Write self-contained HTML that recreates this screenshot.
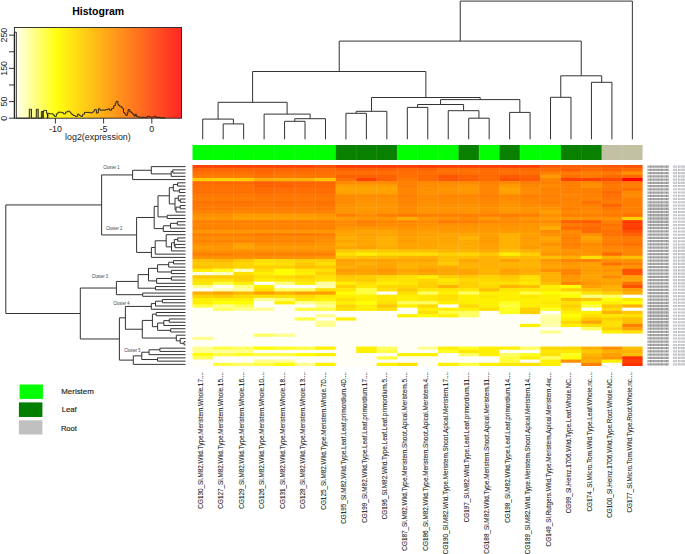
<!DOCTYPE html>
<html><head><meta charset="utf-8"><title>Heatmap</title><style>
html,body{margin:0;padding:0;background:#fff;width:685px;height:554px;overflow:hidden;}
svg{display:block;font-family:"Liberation Sans",sans-serif;}
</style></head><body>
<svg width="685" height="554" viewBox="0 0 685 554">
<defs><linearGradient id="hg" x1="0" x2="1" y1="0" y2="0"><stop offset="0" stop-color="#fffff8"/><stop offset="0.25" stop-color="#ffff10"/><stop offset="1" stop-color="#ff2626"/></linearGradient></defs>
<rect width="685" height="554" fill="#fff"/>
<text x="98.2" y="15.2" font-size="10.5" font-weight="bold" text-anchor="middle" fill="#000">Histogram</text>
<rect x="14.4" y="27.5" width="167.1" height="90.7" fill="url(#hg)"/>
<rect x="29.4" y="109.4" width="2.1" height="8.8" fill="#505000" fill-opacity="0.35"/>
<rect x="36.5" y="109.5" width="1.8" height="8.7" fill="#505000" fill-opacity="0.35"/>
<rect x="41.6" y="111.6" width="2.1" height="6.6" fill="#505000" fill-opacity="0.35"/>
<rect x="47.6" y="113.5" width="1.8" height="4.7" fill="#505000" fill-opacity="0.35"/>
<polyline fill="none" stroke="#1a1a1a" stroke-width="0.9" points="14.4,118.2 14.4,32.2 16.3,32.2 16.3,118.2 29.3,118.2 29.3,109.2 31.5,109.2 31.5,118.2 36.3,118.2 36.3,109.2 38.2,109.2 38.2,118.2 41.4,118.2 41.4,111.4 43,111.4 43,118.2 43,111.4 43.9,111.4 43.9,110.4 46.6,110.4 46.6,113.2 47.4,113.2 47.4,118.2 47.6,118.2 47.6,113.3 49.5,113.3 49.5,113.8 53.1,113.8 53.1,115.1 54.5,115.1 54.5,116.4 56.4,116.4 56.4,113.8 58,113.8 58,112.2 61.5,112.2 61.5,112.7 63.4,112.7 63.4,113.9 65.6,113.9 65.6,112 67.6,112 67.6,111.1 69.3,111.1 69.3,111.6 70.2,111.6 70.2,112.7 71.2,112.7 71.2,114.2 73,114.2 73,115.5 75,115.5 75,116.4 77.5,116.4 77.5,114.2 79.2,114.2 79.2,115.5 80.8,115.5 80.8,116.4 82.7,116.4 82.7,114.2 84.5,114.2 84.5,112.4 90,112.4 90,112.9 92.3,112.9 92.3,112.4 93.2,112.4 93.2,111.1 94.5,111.1 94.5,109.6 96.4,109.6 96.4,113.1 97.9,113.1 97.9,112.5 98.4,112.5 98.4,108.8 100,108.8 100,110.2 102,110.2 102,110 103.8,110 103.8,110.2 105.5,110.2 105.5,109.6 108.2,109.6 108.2,108.8 109.5,108.8 109.5,110.2 111.6,110.2 111.6,108.4 113.7,108.4 113.7,105.7 115.3,105.7 115.3,103.2 116.2,103.2 116.2,101.4 118,101.4 118,104.9 119.3,104.9 119.3,106.1 120.6,106.1 120.6,106.7 121.8,106.7 121.8,107.8 122.9,107.8 122.9,109 123.5,109 123.5,112.5 124.6,112.5 124.6,113.7 125.8,113.7 125.8,115.4 127,115.4 127,114.9 127.6,114.9 127.6,112.5 128.1,112.5 128.1,109.6 129.8,109.6 129.8,111.9 131.6,111.9 131.6,113.1 132.9,113.1 132.9,114.3 134,114.3 134,116 135.2,116 135.2,114.3 136.3,114.3 136.3,116.6 138.2,116.6 138.2,117 140.5,117 140.5,117.3 147.5,117.3 147.5,116.3 149.5,116.3 149.5,117.1 154.3,117.1 154.3,116.3 156,116.3 156,117.4 160,117.4 160,117.8 165,117.8 165,118.2"/>
<rect x="14.4" y="27.5" width="167.1" height="90.7" fill="none" stroke="#222" stroke-width="0.9"/>
<line x1="14.4" y1="118.2" x2="14.4" y2="35.15" stroke="#222" stroke-width="0.9"/>
<line x1="9" y1="118.2" x2="14.4" y2="118.2" stroke="#222" stroke-width="0.9"/>
<line x1="9" y1="101.59" x2="14.4" y2="101.59" stroke="#222" stroke-width="0.9"/>
<line x1="9" y1="84.98" x2="14.4" y2="84.98" stroke="#222" stroke-width="0.9"/>
<line x1="9" y1="68.37" x2="14.4" y2="68.37" stroke="#222" stroke-width="0.9"/>
<line x1="9" y1="51.76" x2="14.4" y2="51.76" stroke="#222" stroke-width="0.9"/>
<line x1="9" y1="35.15" x2="14.4" y2="35.15" stroke="#222" stroke-width="0.9"/>
<text transform="translate(6.6,118.2) rotate(-90)" font-size="8.9" text-anchor="middle" fill="#222">0</text>
<text transform="translate(6.6,101.59) rotate(-90)" font-size="8.9" text-anchor="middle" fill="#222">50</text>
<text transform="translate(6.6,68.37) rotate(-90)" font-size="8.9" text-anchor="middle" fill="#222">150</text>
<text transform="translate(6.6,35.15) rotate(-90)" font-size="8.9" text-anchor="middle" fill="#222">250</text>
<line x1="55.4" y1="118.2" x2="55.4" y2="123.5" stroke="#222" stroke-width="0.9"/>
<text x="55.4" y="132.1" font-size="8.9" text-anchor="middle" fill="#222">-10</text>
<line x1="103.6" y1="118.2" x2="103.6" y2="123.5" stroke="#222" stroke-width="0.9"/>
<text x="103.6" y="132.1" font-size="8.9" text-anchor="middle" fill="#222">-5</text>
<line x1="151.8" y1="118.2" x2="151.8" y2="123.5" stroke="#222" stroke-width="0.9"/>
<text x="151.8" y="132.1" font-size="8.9" text-anchor="middle" fill="#222">0</text>
<text x="97.9" y="140.4" font-size="8.9" text-anchor="middle" fill="#222">log2(expression)</text>
<path d="M223.19 139.3L223.19 123.9 M243.65 139.3L243.65 123.9 M223.19 123.9L243.65 123.9 M202.73 139.3L202.73 119.1 M233.42 123.9L233.42 119.1 M202.73 119.1L233.42 119.1 M284.57 139.3L284.57 121.3 M305.02 139.3L305.02 121.3 M284.57 121.3L305.02 121.3 M294.8 121.3L294.8 118.7 M325.48 139.3L325.48 118.7 M294.8 118.7L325.48 118.7 M264.11 139.3L264.11 114.1 M310.14 118.7L310.14 114.1 M264.11 114.1L310.14 114.1 M218.07 119.1L218.07 102.3 M287.12 114.1L287.12 102.3 M218.07 102.3L287.12 102.3 M345.94 139.3L345.94 113.3 M366.4 139.3L366.4 113.3 M345.94 113.3L366.4 113.3 M356.17 113.3L356.17 111.3 M386.86 139.3L386.86 111.3 M356.17 111.3L386.86 111.3 M407.32 139.3L407.32 107.4 M427.78 139.3L427.78 107.4 M407.32 107.4L427.78 107.4 M468.7 139.3L468.7 118.2 M489.16 139.3L489.16 118.2 M468.7 118.2L489.16 118.2 M448.24 139.3L448.24 110.7 M478.93 118.2L478.93 110.7 M448.24 110.7L478.93 110.7 M417.55 107.4L417.55 104.5 M463.58 110.7L463.58 104.5 M417.55 104.5L463.58 104.5 M509.62 139.3L509.62 112.4 M530.08 139.3L530.08 112.4 M509.62 112.4L530.08 112.4 M440.57 104.5L440.57 99.6 M519.85 112.4L519.85 99.6 M440.57 99.6L519.85 99.6 M371.52 111.3L371.52 97.5 M480.21 99.6L480.21 97.5 M371.52 97.5L480.21 97.5 M252.6 102.3L252.6 71.5 M425.86 97.5L425.86 71.5 M252.6 71.5L425.86 71.5 M550.53 139.3L550.53 97.3 M570.99 139.3L570.99 97.3 M550.53 97.3L570.99 97.3 M591.45 139.3L591.45 82.3 M611.91 139.3L611.91 82.3 M591.45 82.3L611.91 82.3 M560.76 97.3L560.76 75.8 M601.68 82.3L601.68 75.8 M560.76 75.8L601.68 75.8 M339.23 71.5L339.23 41.1 M581.22 75.8L581.22 41.1 M339.23 41.1L581.22 41.1 M460.23 41.1L460.23 1.1 M632.37 139.3L632.37 1.1 M460.23 1.1L632.37 1.1" fill="none" stroke="#333" stroke-width="1"/>
<rect x="192.5" y="145" width="143.71" height="15" fill="#00ff00"/>
<rect x="335.71" y="145" width="61.88" height="15" fill="#0a8000"/>
<rect x="397.09" y="145" width="61.88" height="15" fill="#00ff00"/>
<rect x="458.47" y="145" width="20.96" height="15" fill="#0a8000"/>
<rect x="478.93" y="145" width="20.96" height="15" fill="#00ff00"/>
<rect x="499.39" y="145" width="20.96" height="15" fill="#0a8000"/>
<rect x="519.85" y="145" width="41.42" height="15" fill="#00ff00"/>
<rect x="560.76" y="145" width="41.42" height="15" fill="#0a8000"/>
<rect x="601.68" y="145" width="40.92" height="15" fill="#c3c1a3"/>
<rect x="192.5" y="165" width="123.35" height="3.84" fill="#ff4400"/>
<rect x="315.25" y="165" width="21.06" height="3.84" fill="#ff5000"/>
<rect x="335.71" y="165" width="61.98" height="3.84" fill="#ff3a00"/>
<rect x="397.09" y="165" width="21.06" height="3.84" fill="#ff4000"/>
<rect x="417.55" y="165" width="21.06" height="3.84" fill="#ff3a00"/>
<rect x="438.01" y="165" width="102.9" height="3.84" fill="#ff4000"/>
<rect x="540.3" y="165" width="21.06" height="3.84" fill="#ff5a00"/>
<rect x="560.76" y="165" width="41.52" height="3.84" fill="#ff6000"/>
<rect x="601.68" y="165" width="21.06" height="3.84" fill="#ff5a00"/>
<rect x="622.14" y="165" width="20.46" height="3.84" fill="#ff5500"/>
<rect x="192.5" y="168.24" width="123.35" height="3.84" fill="#ff6400"/>
<rect x="315.25" y="168.24" width="21.06" height="3.84" fill="#ff6a00"/>
<rect x="335.71" y="168.24" width="61.98" height="3.84" fill="#ff6000"/>
<rect x="397.09" y="168.24" width="21.06" height="3.84" fill="#ff6800"/>
<rect x="417.55" y="168.24" width="21.06" height="3.84" fill="#ff6400"/>
<rect x="438.01" y="168.24" width="41.52" height="3.84" fill="#ff7000"/>
<rect x="478.93" y="168.24" width="21.06" height="3.84" fill="#ff6a00"/>
<rect x="499.39" y="168.24" width="21.06" height="3.84" fill="#ff6e00"/>
<rect x="519.85" y="168.24" width="41.52" height="3.84" fill="#ff6a00"/>
<rect x="560.76" y="168.24" width="21.06" height="3.84" fill="#ff5a00"/>
<rect x="581.22" y="168.24" width="21.06" height="3.84" fill="#ff6a00"/>
<rect x="601.68" y="168.24" width="21.06" height="3.84" fill="#ff6000"/>
<rect x="622.14" y="168.24" width="20.46" height="3.84" fill="#ff6a00"/>
<rect x="192.5" y="171.48" width="61.98" height="3.84" fill="#ff7000"/>
<rect x="253.88" y="171.48" width="21.06" height="3.84" fill="#ff6900"/>
<rect x="274.34" y="171.48" width="61.98" height="3.84" fill="#ff6e00"/>
<rect x="335.71" y="171.48" width="61.98" height="3.84" fill="#ff7000"/>
<rect x="397.09" y="171.48" width="41.52" height="3.84" fill="#ff6e00"/>
<rect x="438.01" y="171.48" width="41.52" height="3.84" fill="#ff7000"/>
<rect x="478.93" y="171.48" width="21.06" height="3.84" fill="#ff6c00"/>
<rect x="499.39" y="171.48" width="41.52" height="3.84" fill="#ff7000"/>
<rect x="540.3" y="171.48" width="21.06" height="3.84" fill="#ff8000"/>
<rect x="560.76" y="171.48" width="21.06" height="3.84" fill="#ff7a00"/>
<rect x="581.22" y="171.48" width="21.06" height="3.84" fill="#ff8000"/>
<rect x="601.68" y="171.48" width="21.06" height="3.84" fill="#ff7a00"/>
<rect x="622.14" y="171.48" width="20.46" height="3.84" fill="#ff9000"/>
<rect x="192.5" y="174.73" width="61.98" height="3.84" fill="#ff7a00"/>
<rect x="253.88" y="174.73" width="21.06" height="3.84" fill="#ff7300"/>
<rect x="274.34" y="174.73" width="41.52" height="3.84" fill="#ff7800"/>
<rect x="315.25" y="174.73" width="21.06" height="3.84" fill="#ff7600"/>
<rect x="335.71" y="174.73" width="61.98" height="3.84" fill="#ff6000"/>
<rect x="397.09" y="174.73" width="21.06" height="3.84" fill="#ff7000"/>
<rect x="417.55" y="174.73" width="21.06" height="3.84" fill="#ff6800"/>
<rect x="438.01" y="174.73" width="21.06" height="3.84" fill="#ff5500"/>
<rect x="458.47" y="174.73" width="21.06" height="3.84" fill="#ff6000"/>
<rect x="478.93" y="174.73" width="21.06" height="3.84" fill="#ff6900"/>
<rect x="499.39" y="174.73" width="21.06" height="3.84" fill="#ff5a00"/>
<rect x="519.85" y="174.73" width="21.06" height="3.84" fill="#ff6000"/>
<rect x="540.3" y="174.73" width="21.06" height="3.84" fill="#ff9b00"/>
<rect x="560.76" y="174.73" width="21.06" height="3.84" fill="#ff7000"/>
<rect x="581.22" y="174.73" width="21.06" height="3.84" fill="#ff7a00"/>
<rect x="601.68" y="174.73" width="40.92" height="3.84" fill="#ff6a00"/>
<rect x="192.5" y="177.97" width="21.06" height="3.84" fill="#ffcd00"/>
<rect x="212.96" y="177.97" width="21.06" height="3.84" fill="#ffd200"/>
<rect x="233.42" y="177.97" width="21.06" height="3.84" fill="#ffcd00"/>
<rect x="253.88" y="177.97" width="21.06" height="3.84" fill="#ffaf00"/>
<rect x="274.34" y="177.97" width="41.52" height="3.84" fill="#ffb400"/>
<rect x="315.25" y="177.97" width="21.06" height="3.84" fill="#ffc800"/>
<rect x="335.71" y="177.97" width="21.06" height="3.84" fill="#ff7000"/>
<rect x="356.17" y="177.97" width="21.06" height="3.84" fill="#ff4000"/>
<rect x="376.63" y="177.97" width="21.06" height="3.84" fill="#ff6000"/>
<rect x="397.09" y="177.97" width="21.06" height="3.84" fill="#ff7a00"/>
<rect x="417.55" y="177.97" width="21.06" height="3.84" fill="#ff6a00"/>
<rect x="438.01" y="177.97" width="21.06" height="3.84" fill="#ff5a00"/>
<rect x="458.47" y="177.97" width="21.06" height="3.84" fill="#ff6000"/>
<rect x="478.93" y="177.97" width="21.06" height="3.84" fill="#ff6900"/>
<rect x="499.39" y="177.97" width="21.06" height="3.84" fill="#ff5000"/>
<rect x="519.85" y="177.97" width="21.06" height="3.84" fill="#ff5a00"/>
<rect x="540.3" y="177.97" width="21.06" height="3.84" fill="#ff8500"/>
<rect x="560.76" y="177.97" width="41.52" height="3.84" fill="#ff4000"/>
<rect x="601.68" y="177.97" width="21.06" height="3.84" fill="#ff4a00"/>
<rect x="622.14" y="177.97" width="20.46" height="3.84" fill="#ff0000"/>
<rect x="192.5" y="181.21" width="61.98" height="3.84" fill="#ff6800"/>
<rect x="253.88" y="181.21" width="21.06" height="3.84" fill="#ff5c00"/>
<rect x="274.34" y="181.21" width="41.52" height="3.84" fill="#ff6400"/>
<rect x="315.25" y="181.21" width="21.06" height="3.84" fill="#ff6800"/>
<rect x="335.71" y="181.21" width="21.06" height="3.84" fill="#ff8a00"/>
<rect x="356.17" y="181.21" width="41.52" height="3.84" fill="#ff8c00"/>
<rect x="397.09" y="181.21" width="21.06" height="3.84" fill="#ff8000"/>
<rect x="417.55" y="181.21" width="61.98" height="3.84" fill="#ff8a00"/>
<rect x="478.93" y="181.21" width="21.06" height="3.84" fill="#ff8000"/>
<rect x="499.39" y="181.21" width="21.06" height="3.84" fill="#ff8c00"/>
<rect x="519.85" y="181.21" width="61.98" height="3.84" fill="#ff8000"/>
<rect x="581.22" y="181.21" width="21.06" height="3.84" fill="#ff8a00"/>
<rect x="601.68" y="181.21" width="21.06" height="3.84" fill="#ff7000"/>
<rect x="622.14" y="181.21" width="20.46" height="3.84" fill="#ff7a00"/>
<rect x="192.5" y="184.45" width="61.98" height="3.84" fill="#ff6e00"/>
<rect x="253.88" y="184.45" width="41.52" height="3.84" fill="#ff6100"/>
<rect x="294.8" y="184.45" width="21.06" height="3.84" fill="#ff6600"/>
<rect x="315.25" y="184.45" width="21.06" height="3.84" fill="#ff6800"/>
<rect x="335.71" y="184.45" width="61.98" height="3.84" fill="#ffa000"/>
<rect x="397.09" y="184.45" width="21.06" height="3.84" fill="#ff8000"/>
<rect x="417.55" y="184.45" width="21.06" height="3.84" fill="#ff8c00"/>
<rect x="438.01" y="184.45" width="21.06" height="3.84" fill="#ff9000"/>
<rect x="458.47" y="184.45" width="21.06" height="3.84" fill="#ff9600"/>
<rect x="478.93" y="184.45" width="21.06" height="3.84" fill="#ff8500"/>
<rect x="499.39" y="184.45" width="21.06" height="3.84" fill="#ff9b00"/>
<rect x="519.85" y="184.45" width="21.06" height="3.84" fill="#ff8700"/>
<rect x="540.3" y="184.45" width="21.06" height="3.84" fill="#ff8a00"/>
<rect x="560.76" y="184.45" width="21.06" height="3.84" fill="#ff8000"/>
<rect x="581.22" y="184.45" width="21.06" height="3.84" fill="#ff9000"/>
<rect x="601.68" y="184.45" width="21.06" height="3.84" fill="#ff7a00"/>
<rect x="622.14" y="184.45" width="20.46" height="3.84" fill="#ff8000"/>
<rect x="192.5" y="187.69" width="61.98" height="3.84" fill="#ff7200"/>
<rect x="253.88" y="187.69" width="21.06" height="3.84" fill="#ff6b00"/>
<rect x="274.34" y="187.69" width="61.98" height="3.84" fill="#ff6e00"/>
<rect x="335.71" y="187.69" width="61.98" height="3.84" fill="#ffa500"/>
<rect x="397.09" y="187.69" width="21.06" height="3.84" fill="#ff8500"/>
<rect x="417.55" y="187.69" width="21.06" height="3.84" fill="#ff9100"/>
<rect x="438.01" y="187.69" width="21.06" height="3.84" fill="#ff9600"/>
<rect x="458.47" y="187.69" width="21.06" height="3.84" fill="#ff9b00"/>
<rect x="478.93" y="187.69" width="21.06" height="3.84" fill="#ff8500"/>
<rect x="499.39" y="187.69" width="21.06" height="3.84" fill="#ffa500"/>
<rect x="519.85" y="187.69" width="21.06" height="3.84" fill="#ff8c00"/>
<rect x="540.3" y="187.69" width="61.98" height="3.84" fill="#ff8000"/>
<rect x="601.68" y="187.69" width="21.06" height="3.84" fill="#ff7600"/>
<rect x="622.14" y="187.69" width="20.46" height="3.84" fill="#ff7000"/>
<rect x="192.5" y="190.94" width="61.98" height="3.84" fill="#ff6e00"/>
<rect x="253.88" y="190.94" width="21.06" height="3.84" fill="#ff6b00"/>
<rect x="274.34" y="190.94" width="41.52" height="3.84" fill="#ff6e00"/>
<rect x="315.25" y="190.94" width="21.06" height="3.84" fill="#ff6b00"/>
<rect x="335.71" y="190.94" width="61.98" height="3.84" fill="#ffa000"/>
<rect x="397.09" y="190.94" width="21.06" height="3.84" fill="#ff8500"/>
<rect x="417.55" y="190.94" width="41.52" height="3.84" fill="#ff9100"/>
<rect x="458.47" y="190.94" width="21.06" height="3.84" fill="#ff9600"/>
<rect x="478.93" y="190.94" width="21.06" height="3.84" fill="#ff8500"/>
<rect x="499.39" y="190.94" width="21.06" height="3.84" fill="#ffa000"/>
<rect x="519.85" y="190.94" width="21.06" height="3.84" fill="#ff8c00"/>
<rect x="540.3" y="190.94" width="21.06" height="3.84" fill="#ff8500"/>
<rect x="560.76" y="190.94" width="41.52" height="3.84" fill="#ff8000"/>
<rect x="601.68" y="190.94" width="21.06" height="3.84" fill="#ff6a00"/>
<rect x="622.14" y="190.94" width="20.46" height="3.84" fill="#ff8a00"/>
<rect x="192.5" y="194.18" width="61.98" height="3.84" fill="#ff7800"/>
<rect x="253.88" y="194.18" width="82.44" height="3.84" fill="#ff7500"/>
<rect x="335.71" y="194.18" width="61.98" height="3.84" fill="#ff8c00"/>
<rect x="397.09" y="194.18" width="21.06" height="3.84" fill="#ff8000"/>
<rect x="417.55" y="194.18" width="21.06" height="3.84" fill="#ff8c00"/>
<rect x="438.01" y="194.18" width="41.52" height="3.84" fill="#ff8500"/>
<rect x="478.93" y="194.18" width="21.06" height="3.84" fill="#ff8000"/>
<rect x="499.39" y="194.18" width="21.06" height="3.84" fill="#ff8700"/>
<rect x="519.85" y="194.18" width="41.52" height="3.84" fill="#ff8000"/>
<rect x="560.76" y="194.18" width="21.06" height="3.84" fill="#ff8500"/>
<rect x="581.22" y="194.18" width="21.06" height="3.84" fill="#ff8000"/>
<rect x="601.68" y="194.18" width="21.06" height="3.84" fill="#ff7000"/>
<rect x="622.14" y="194.18" width="20.46" height="3.84" fill="#ff8c00"/>
<rect x="192.5" y="197.42" width="61.98" height="3.84" fill="#ff7d00"/>
<rect x="253.88" y="197.42" width="61.98" height="3.84" fill="#ff7a00"/>
<rect x="315.25" y="197.42" width="21.06" height="3.84" fill="#ff7800"/>
<rect x="335.71" y="197.42" width="21.06" height="3.84" fill="#ff8a00"/>
<rect x="356.17" y="197.42" width="41.52" height="3.84" fill="#ff9100"/>
<rect x="397.09" y="197.42" width="21.06" height="3.84" fill="#ff8500"/>
<rect x="417.55" y="197.42" width="21.06" height="3.84" fill="#ff8c00"/>
<rect x="438.01" y="197.42" width="41.52" height="3.84" fill="#ff8a00"/>
<rect x="478.93" y="197.42" width="21.06" height="3.84" fill="#ff8500"/>
<rect x="499.39" y="197.42" width="21.06" height="3.84" fill="#ff8c00"/>
<rect x="519.85" y="197.42" width="41.52" height="3.84" fill="#ff8500"/>
<rect x="560.76" y="197.42" width="21.06" height="3.84" fill="#ff8000"/>
<rect x="581.22" y="197.42" width="21.06" height="3.84" fill="#ff8500"/>
<rect x="601.68" y="197.42" width="21.06" height="3.84" fill="#ff7600"/>
<rect x="622.14" y="197.42" width="20.46" height="3.84" fill="#ff7d00"/>
<rect x="192.5" y="200.66" width="61.98" height="3.84" fill="#ff7200"/>
<rect x="253.88" y="200.66" width="21.06" height="3.84" fill="#ff7500"/>
<rect x="274.34" y="200.66" width="21.06" height="3.84" fill="#ff7200"/>
<rect x="294.8" y="200.66" width="21.06" height="3.84" fill="#ff7500"/>
<rect x="315.25" y="200.66" width="21.06" height="3.84" fill="#ff7200"/>
<rect x="335.71" y="200.66" width="21.06" height="3.84" fill="#ff8c00"/>
<rect x="356.17" y="200.66" width="21.06" height="3.84" fill="#ff9600"/>
<rect x="376.63" y="200.66" width="21.06" height="3.84" fill="#ff9100"/>
<rect x="397.09" y="200.66" width="21.06" height="3.84" fill="#ff8500"/>
<rect x="417.55" y="200.66" width="21.06" height="3.84" fill="#ff9100"/>
<rect x="438.01" y="200.66" width="41.52" height="3.84" fill="#ff8c00"/>
<rect x="478.93" y="200.66" width="21.06" height="3.84" fill="#ff8700"/>
<rect x="499.39" y="200.66" width="21.06" height="3.84" fill="#ff9100"/>
<rect x="519.85" y="200.66" width="21.06" height="3.84" fill="#ff8700"/>
<rect x="540.3" y="200.66" width="21.06" height="3.84" fill="#ff8000"/>
<rect x="560.76" y="200.66" width="21.06" height="3.84" fill="#ff8500"/>
<rect x="581.22" y="200.66" width="21.06" height="3.84" fill="#ff7000"/>
<rect x="601.68" y="200.66" width="40.92" height="3.84" fill="#ff7d00"/>
<rect x="192.5" y="203.9" width="123.35" height="3.84" fill="#ff7800"/>
<rect x="315.25" y="203.9" width="21.06" height="3.84" fill="#ff7500"/>
<rect x="335.71" y="203.9" width="21.06" height="3.84" fill="#ff9100"/>
<rect x="356.17" y="203.9" width="41.52" height="3.84" fill="#ff9600"/>
<rect x="397.09" y="203.9" width="21.06" height="3.84" fill="#ff8a00"/>
<rect x="417.55" y="203.9" width="61.98" height="3.84" fill="#ff9100"/>
<rect x="478.93" y="203.9" width="21.06" height="3.84" fill="#ff8c00"/>
<rect x="499.39" y="203.9" width="21.06" height="3.84" fill="#ff9600"/>
<rect x="519.85" y="203.9" width="21.06" height="3.84" fill="#ff8c00"/>
<rect x="540.3" y="203.9" width="21.06" height="3.84" fill="#ff8a00"/>
<rect x="560.76" y="203.9" width="21.06" height="3.84" fill="#ff8500"/>
<rect x="581.22" y="203.9" width="21.06" height="3.84" fill="#ff8000"/>
<rect x="601.68" y="203.9" width="21.06" height="3.84" fill="#ff6400"/>
<rect x="622.14" y="203.9" width="20.46" height="3.84" fill="#ff7d00"/>
<rect x="192.5" y="207.15" width="41.52" height="3.84" fill="#ff7800"/>
<rect x="233.42" y="207.15" width="82.44" height="3.84" fill="#ff7d00"/>
<rect x="315.25" y="207.15" width="21.06" height="3.84" fill="#ff7800"/>
<rect x="335.71" y="207.15" width="21.06" height="3.84" fill="#ff9600"/>
<rect x="356.17" y="207.15" width="21.06" height="3.84" fill="#ff9b00"/>
<rect x="376.63" y="207.15" width="21.06" height="3.84" fill="#ff9600"/>
<rect x="397.09" y="207.15" width="21.06" height="3.84" fill="#ff8a00"/>
<rect x="417.55" y="207.15" width="21.06" height="3.84" fill="#ff9600"/>
<rect x="438.01" y="207.15" width="21.06" height="3.84" fill="#ff9400"/>
<rect x="458.47" y="207.15" width="21.06" height="3.84" fill="#ff9600"/>
<rect x="478.93" y="207.15" width="21.06" height="3.84" fill="#ff9100"/>
<rect x="499.39" y="207.15" width="21.06" height="3.84" fill="#ff9b00"/>
<rect x="519.85" y="207.15" width="21.06" height="3.84" fill="#ff9400"/>
<rect x="540.3" y="207.15" width="21.06" height="3.84" fill="#ff9100"/>
<rect x="560.76" y="207.15" width="21.06" height="3.84" fill="#ff8000"/>
<rect x="581.22" y="207.15" width="21.06" height="3.84" fill="#ff8500"/>
<rect x="601.68" y="207.15" width="21.06" height="3.84" fill="#ff7600"/>
<rect x="622.14" y="207.15" width="20.46" height="3.84" fill="#ff8000"/>
<rect x="192.5" y="210.39" width="41.52" height="3.84" fill="#ff8200"/>
<rect x="233.42" y="210.39" width="21.06" height="3.84" fill="#ff8400"/>
<rect x="253.88" y="210.39" width="82.44" height="3.84" fill="#ff8200"/>
<rect x="335.71" y="210.39" width="21.06" height="3.84" fill="#ff9400"/>
<rect x="356.17" y="210.39" width="21.06" height="3.84" fill="#ff9600"/>
<rect x="376.63" y="210.39" width="21.06" height="3.84" fill="#ff9400"/>
<rect x="397.09" y="210.39" width="21.06" height="3.84" fill="#ff8c00"/>
<rect x="417.55" y="210.39" width="21.06" height="3.84" fill="#ff9400"/>
<rect x="438.01" y="210.39" width="21.06" height="3.84" fill="#ff9100"/>
<rect x="458.47" y="210.39" width="21.06" height="3.84" fill="#ff9400"/>
<rect x="478.93" y="210.39" width="21.06" height="3.84" fill="#ff8c00"/>
<rect x="499.39" y="210.39" width="21.06" height="3.84" fill="#ff9600"/>
<rect x="519.85" y="210.39" width="21.06" height="3.84" fill="#ff9100"/>
<rect x="540.3" y="210.39" width="21.06" height="3.84" fill="#ffa000"/>
<rect x="560.76" y="210.39" width="41.52" height="3.84" fill="#ff8a00"/>
<rect x="601.68" y="210.39" width="40.92" height="3.84" fill="#ff8000"/>
<rect x="192.5" y="213.63" width="41.52" height="3.84" fill="#ff9100"/>
<rect x="233.42" y="213.63" width="82.44" height="3.84" fill="#ff9b00"/>
<rect x="315.25" y="213.63" width="21.06" height="3.84" fill="#ff9600"/>
<rect x="335.71" y="213.63" width="21.06" height="3.84" fill="#ff8000"/>
<rect x="356.17" y="213.63" width="21.06" height="3.84" fill="#ff8c00"/>
<rect x="376.63" y="213.63" width="21.06" height="3.84" fill="#ff8000"/>
<rect x="397.09" y="213.63" width="21.06" height="3.84" fill="#ff7a00"/>
<rect x="417.55" y="213.63" width="82.44" height="3.84" fill="#ff8000"/>
<rect x="499.39" y="213.63" width="21.06" height="3.84" fill="#ff7d00"/>
<rect x="519.85" y="213.63" width="21.06" height="3.84" fill="#ff8000"/>
<rect x="540.3" y="213.63" width="21.06" height="3.84" fill="#ff9000"/>
<rect x="560.76" y="213.63" width="41.52" height="3.84" fill="#ff8000"/>
<rect x="601.68" y="213.63" width="21.06" height="3.84" fill="#ff7a00"/>
<rect x="622.14" y="213.63" width="20.46" height="3.84" fill="#ff7000"/>
<rect x="192.5" y="216.87" width="41.52" height="3.84" fill="#ff9600"/>
<rect x="233.42" y="216.87" width="82.44" height="3.84" fill="#ffa000"/>
<rect x="315.25" y="216.87" width="41.52" height="3.84" fill="#ff9b00"/>
<rect x="356.17" y="216.87" width="41.52" height="3.84" fill="#ff9600"/>
<rect x="397.09" y="216.87" width="21.06" height="3.84" fill="#ffaf00"/>
<rect x="417.55" y="216.87" width="21.06" height="3.84" fill="#ff9600"/>
<rect x="438.01" y="216.87" width="21.06" height="3.84" fill="#ff9100"/>
<rect x="458.47" y="216.87" width="21.06" height="3.84" fill="#ff8a00"/>
<rect x="478.93" y="216.87" width="21.06" height="3.84" fill="#ff9b00"/>
<rect x="499.39" y="216.87" width="21.06" height="3.84" fill="#ff8c00"/>
<rect x="519.85" y="216.87" width="21.06" height="3.84" fill="#ff9600"/>
<rect x="540.3" y="216.87" width="21.06" height="3.84" fill="#ff9b00"/>
<rect x="560.76" y="216.87" width="21.06" height="3.84" fill="#ff9600"/>
<rect x="581.22" y="216.87" width="41.52" height="3.84" fill="#ff9000"/>
<rect x="622.14" y="216.87" width="20.46" height="3.84" fill="#ffd000"/>
<rect x="192.5" y="220.11" width="143.81" height="3.84" fill="#ff8000"/>
<rect x="335.71" y="220.11" width="21.06" height="3.84" fill="#ff8c00"/>
<rect x="356.17" y="220.11" width="21.06" height="3.84" fill="#ff8000"/>
<rect x="376.63" y="220.11" width="41.52" height="3.84" fill="#ff8700"/>
<rect x="417.55" y="220.11" width="21.06" height="3.84" fill="#ff8c00"/>
<rect x="438.01" y="220.11" width="21.06" height="3.84" fill="#ff7a00"/>
<rect x="458.47" y="220.11" width="21.06" height="3.84" fill="#ff8000"/>
<rect x="478.93" y="220.11" width="21.06" height="3.84" fill="#ff8500"/>
<rect x="499.39" y="220.11" width="41.52" height="3.84" fill="#ff8a00"/>
<rect x="540.3" y="220.11" width="21.06" height="3.84" fill="#ff8c00"/>
<rect x="560.76" y="220.11" width="21.06" height="3.84" fill="#ff6000"/>
<rect x="581.22" y="220.11" width="21.06" height="3.84" fill="#ff5a00"/>
<rect x="601.68" y="220.11" width="21.06" height="3.84" fill="#ff8000"/>
<rect x="622.14" y="220.11" width="20.46" height="3.84" fill="#ff3a00"/>
<rect x="192.5" y="223.35" width="143.81" height="3.84" fill="#ff8500"/>
<rect x="335.71" y="223.35" width="21.06" height="3.84" fill="#ff8c00"/>
<rect x="356.17" y="223.35" width="21.06" height="3.84" fill="#ff8500"/>
<rect x="376.63" y="223.35" width="41.52" height="3.84" fill="#ff8c00"/>
<rect x="417.55" y="223.35" width="61.98" height="3.84" fill="#ff9100"/>
<rect x="478.93" y="223.35" width="21.06" height="3.84" fill="#ff9600"/>
<rect x="499.39" y="223.35" width="21.06" height="3.84" fill="#ff9100"/>
<rect x="519.85" y="223.35" width="21.06" height="3.84" fill="#ff9600"/>
<rect x="540.3" y="223.35" width="21.06" height="3.84" fill="#ff9b00"/>
<rect x="560.76" y="223.35" width="21.06" height="3.84" fill="#ff7a00"/>
<rect x="581.22" y="223.35" width="41.52" height="3.84" fill="#ff7000"/>
<rect x="622.14" y="223.35" width="20.46" height="3.84" fill="#ff4000"/>
<rect x="192.5" y="226.6" width="143.81" height="3.84" fill="#ff8000"/>
<rect x="335.71" y="226.6" width="61.98" height="3.84" fill="#ff9600"/>
<rect x="397.09" y="226.6" width="21.06" height="3.84" fill="#ff9100"/>
<rect x="417.55" y="226.6" width="123.35" height="3.84" fill="#ff9600"/>
<rect x="540.3" y="226.6" width="21.06" height="3.84" fill="#ffb000"/>
<rect x="560.76" y="226.6" width="41.52" height="3.84" fill="#ff6a00"/>
<rect x="601.68" y="226.6" width="21.06" height="3.84" fill="#ff7a00"/>
<rect x="622.14" y="226.6" width="20.46" height="3.84" fill="#ff3a00"/>
<rect x="192.5" y="229.84" width="143.81" height="3.84" fill="#ff9600"/>
<rect x="335.71" y="229.84" width="21.06" height="3.84" fill="#ffa000"/>
<rect x="356.17" y="229.84" width="41.52" height="3.84" fill="#ffa500"/>
<rect x="397.09" y="229.84" width="21.06" height="3.84" fill="#ff9b00"/>
<rect x="417.55" y="229.84" width="21.06" height="3.84" fill="#ffa000"/>
<rect x="438.01" y="229.84" width="102.9" height="3.84" fill="#ff9b00"/>
<rect x="540.3" y="229.84" width="41.52" height="3.84" fill="#ff8a00"/>
<rect x="581.22" y="229.84" width="21.06" height="3.84" fill="#ff6a00"/>
<rect x="601.68" y="229.84" width="21.06" height="3.84" fill="#ff7000"/>
<rect x="622.14" y="229.84" width="20.46" height="3.84" fill="#ff5000"/>
<rect x="192.5" y="233.08" width="61.98" height="3.84" fill="#ff8000"/>
<rect x="253.88" y="233.08" width="61.98" height="3.84" fill="#ff7a00"/>
<rect x="315.25" y="233.08" width="21.06" height="3.84" fill="#ff8000"/>
<rect x="335.71" y="233.08" width="21.06" height="3.84" fill="#ffa500"/>
<rect x="356.17" y="233.08" width="21.06" height="3.84" fill="#ffa000"/>
<rect x="376.63" y="233.08" width="21.06" height="3.84" fill="#ffa500"/>
<rect x="397.09" y="233.08" width="21.06" height="3.84" fill="#ff9b00"/>
<rect x="417.55" y="233.08" width="21.06" height="3.84" fill="#ffa000"/>
<rect x="438.01" y="233.08" width="41.52" height="3.84" fill="#ffa500"/>
<rect x="478.93" y="233.08" width="21.06" height="3.84" fill="#ffa000"/>
<rect x="499.39" y="233.08" width="21.06" height="3.84" fill="#ffb000"/>
<rect x="519.85" y="233.08" width="21.06" height="3.84" fill="#ffa000"/>
<rect x="540.3" y="233.08" width="21.06" height="3.84" fill="#ff9000"/>
<rect x="560.76" y="233.08" width="21.06" height="3.84" fill="#ff8500"/>
<rect x="581.22" y="233.08" width="21.06" height="3.84" fill="#ff9000"/>
<rect x="601.68" y="233.08" width="21.06" height="3.84" fill="#ff7000"/>
<rect x="622.14" y="233.08" width="20.46" height="3.84" fill="#ff6000"/>
<rect x="192.5" y="236.32" width="61.98" height="3.84" fill="#ff8a00"/>
<rect x="253.88" y="236.32" width="21.06" height="3.84" fill="#ff8500"/>
<rect x="274.34" y="236.32" width="61.98" height="3.84" fill="#ff8a00"/>
<rect x="335.71" y="236.32" width="21.06" height="3.84" fill="#ffb000"/>
<rect x="356.17" y="236.32" width="21.06" height="3.84" fill="#ffa500"/>
<rect x="376.63" y="236.32" width="21.06" height="3.84" fill="#ffb000"/>
<rect x="397.09" y="236.32" width="21.06" height="3.84" fill="#ffa000"/>
<rect x="417.55" y="236.32" width="41.52" height="3.84" fill="#ffa500"/>
<rect x="458.47" y="236.32" width="21.06" height="3.84" fill="#ffb400"/>
<rect x="478.93" y="236.32" width="21.06" height="3.84" fill="#ff9b00"/>
<rect x="499.39" y="236.32" width="21.06" height="3.84" fill="#ffb000"/>
<rect x="519.85" y="236.32" width="21.06" height="3.84" fill="#ff9b00"/>
<rect x="540.3" y="236.32" width="21.06" height="3.84" fill="#ffa500"/>
<rect x="560.76" y="236.32" width="21.06" height="3.84" fill="#ff8000"/>
<rect x="581.22" y="236.32" width="21.06" height="3.84" fill="#ffa500"/>
<rect x="601.68" y="236.32" width="21.06" height="3.84" fill="#ff8000"/>
<rect x="622.14" y="236.32" width="20.46" height="3.84" fill="#ff7a00"/>
<rect x="192.5" y="239.56" width="123.35" height="3.84" fill="#ff8500"/>
<rect x="315.25" y="239.56" width="21.06" height="3.84" fill="#ff9000"/>
<rect x="335.71" y="239.56" width="41.52" height="3.84" fill="#ffa500"/>
<rect x="376.63" y="239.56" width="21.06" height="3.84" fill="#ffb000"/>
<rect x="397.09" y="239.56" width="21.06" height="3.84" fill="#ff9b00"/>
<rect x="417.55" y="239.56" width="41.52" height="3.84" fill="#ffa500"/>
<rect x="458.47" y="239.56" width="21.06" height="3.84" fill="#ffaa00"/>
<rect x="478.93" y="239.56" width="21.06" height="3.84" fill="#ff9b00"/>
<rect x="499.39" y="239.56" width="21.06" height="3.84" fill="#ffb000"/>
<rect x="519.85" y="239.56" width="41.52" height="3.84" fill="#ffa000"/>
<rect x="560.76" y="239.56" width="21.06" height="3.84" fill="#ff8500"/>
<rect x="581.22" y="239.56" width="21.06" height="3.84" fill="#ff9b00"/>
<rect x="601.68" y="239.56" width="21.06" height="3.84" fill="#ff8000"/>
<rect x="622.14" y="239.56" width="20.46" height="3.84" fill="#ff7a00"/>
<rect x="192.5" y="242.81" width="41.52" height="3.84" fill="#ff9000"/>
<rect x="233.42" y="242.81" width="21.06" height="3.84" fill="#ffa000"/>
<rect x="253.88" y="242.81" width="61.98" height="3.84" fill="#ff9000"/>
<rect x="315.25" y="242.81" width="21.06" height="3.84" fill="#ff9600"/>
<rect x="335.71" y="242.81" width="21.06" height="3.84" fill="#ffb000"/>
<rect x="356.17" y="242.81" width="21.06" height="3.84" fill="#ffa500"/>
<rect x="376.63" y="242.81" width="21.06" height="3.84" fill="#ffb000"/>
<rect x="397.09" y="242.81" width="41.52" height="3.84" fill="#ffa500"/>
<rect x="438.01" y="242.81" width="41.52" height="3.84" fill="#ffaa00"/>
<rect x="478.93" y="242.81" width="21.06" height="3.84" fill="#ffa000"/>
<rect x="499.39" y="242.81" width="21.06" height="3.84" fill="#ffb000"/>
<rect x="519.85" y="242.81" width="21.06" height="3.84" fill="#ffa000"/>
<rect x="540.3" y="242.81" width="21.06" height="3.84" fill="#ff9000"/>
<rect x="560.76" y="242.81" width="21.06" height="3.84" fill="#ff8000"/>
<rect x="581.22" y="242.81" width="21.06" height="3.84" fill="#ff8a00"/>
<rect x="601.68" y="242.81" width="21.06" height="3.84" fill="#ff7a00"/>
<rect x="622.14" y="242.81" width="20.46" height="3.84" fill="#ff7000"/>
<rect x="192.5" y="246.05" width="21.06" height="3.84" fill="#ff9b00"/>
<rect x="212.96" y="246.05" width="21.06" height="3.84" fill="#ff9600"/>
<rect x="233.42" y="246.05" width="21.06" height="3.84" fill="#ffa500"/>
<rect x="253.88" y="246.05" width="82.44" height="3.84" fill="#ff9b00"/>
<rect x="335.71" y="246.05" width="21.06" height="3.84" fill="#ffa500"/>
<rect x="356.17" y="246.05" width="21.06" height="3.84" fill="#ffa000"/>
<rect x="376.63" y="246.05" width="21.06" height="3.84" fill="#ffaa00"/>
<rect x="397.09" y="246.05" width="21.06" height="3.84" fill="#ffa000"/>
<rect x="417.55" y="246.05" width="21.06" height="3.84" fill="#ffa500"/>
<rect x="438.01" y="246.05" width="41.52" height="3.84" fill="#ffaa00"/>
<rect x="478.93" y="246.05" width="21.06" height="3.84" fill="#ffa000"/>
<rect x="499.39" y="246.05" width="21.06" height="3.84" fill="#ffb000"/>
<rect x="519.85" y="246.05" width="21.06" height="3.84" fill="#ff9b00"/>
<rect x="540.3" y="246.05" width="21.06" height="3.84" fill="#ffa000"/>
<rect x="560.76" y="246.05" width="21.06" height="3.84" fill="#ff8500"/>
<rect x="581.22" y="246.05" width="21.06" height="3.84" fill="#ff9000"/>
<rect x="601.68" y="246.05" width="21.06" height="3.84" fill="#ff8500"/>
<rect x="622.14" y="246.05" width="20.46" height="3.84" fill="#ff8000"/>
<rect x="192.5" y="249.29" width="143.81" height="3.84" fill="#ff9000"/>
<rect x="335.71" y="249.29" width="21.06" height="3.84" fill="#ffc800"/>
<rect x="356.17" y="249.29" width="21.06" height="3.84" fill="#ffd000"/>
<rect x="376.63" y="249.29" width="21.06" height="3.84" fill="#ffc800"/>
<rect x="397.09" y="249.29" width="41.52" height="3.84" fill="#ffc000"/>
<rect x="438.01" y="249.29" width="41.52" height="3.84" fill="#ffb400"/>
<rect x="478.93" y="249.29" width="21.06" height="3.84" fill="#ffaa00"/>
<rect x="499.39" y="249.29" width="21.06" height="3.84" fill="#ffc000"/>
<rect x="519.85" y="249.29" width="21.06" height="3.84" fill="#ffb000"/>
<rect x="540.3" y="249.29" width="21.06" height="3.84" fill="#ffa000"/>
<rect x="560.76" y="249.29" width="21.06" height="3.84" fill="#ff9600"/>
<rect x="581.22" y="249.29" width="21.06" height="3.84" fill="#ff9000"/>
<rect x="601.68" y="249.29" width="21.06" height="3.84" fill="#ff8a00"/>
<rect x="622.14" y="249.29" width="20.46" height="3.84" fill="#ff8500"/>
<rect x="192.5" y="252.53" width="41.52" height="3.84" fill="#ff8000"/>
<rect x="233.42" y="252.53" width="21.06" height="3.84" fill="#ff8500"/>
<rect x="253.88" y="252.53" width="82.44" height="3.84" fill="#ff8000"/>
<rect x="335.71" y="252.53" width="21.06" height="3.84" fill="#ffe000"/>
<rect x="356.17" y="252.53" width="21.06" height="3.84" fill="#fff000"/>
<rect x="376.63" y="252.53" width="61.98" height="3.84" fill="#ffe000"/>
<rect x="438.01" y="252.53" width="21.06" height="3.84" fill="#ffd000"/>
<rect x="458.47" y="252.53" width="21.06" height="3.84" fill="#ffd800"/>
<rect x="478.93" y="252.53" width="21.06" height="3.84" fill="#ffc800"/>
<rect x="499.39" y="252.53" width="21.06" height="3.84" fill="#fff000"/>
<rect x="519.85" y="252.53" width="21.06" height="3.84" fill="#ffd000"/>
<rect x="540.3" y="252.53" width="21.06" height="3.84" fill="#ff9600"/>
<rect x="560.76" y="252.53" width="21.06" height="3.84" fill="#ff9000"/>
<rect x="581.22" y="252.53" width="21.06" height="3.84" fill="#ff9600"/>
<rect x="601.68" y="252.53" width="21.06" height="3.84" fill="#ff6a00"/>
<rect x="622.14" y="252.53" width="20.46" height="3.84" fill="#ff8500"/>
<rect x="192.5" y="255.77" width="123.35" height="3.84" fill="#ff9000"/>
<rect x="315.25" y="255.77" width="21.06" height="3.84" fill="#ff9600"/>
<rect x="335.71" y="255.77" width="21.06" height="3.84" fill="#ffc800"/>
<rect x="356.17" y="255.77" width="41.52" height="3.84" fill="#ffc000"/>
<rect x="397.09" y="255.77" width="21.06" height="3.84" fill="#ffb400"/>
<rect x="417.55" y="255.77" width="21.06" height="3.84" fill="#ffb000"/>
<rect x="438.01" y="255.77" width="41.52" height="3.84" fill="#ffc000"/>
<rect x="478.93" y="255.77" width="21.06" height="3.84" fill="#ffb400"/>
<rect x="499.39" y="255.77" width="21.06" height="3.84" fill="#ffc000"/>
<rect x="519.85" y="255.77" width="21.06" height="3.84" fill="#ffba00"/>
<rect x="540.3" y="255.77" width="21.06" height="3.84" fill="#ffc000"/>
<rect x="560.76" y="255.77" width="21.06" height="3.84" fill="#ffb000"/>
<rect x="581.22" y="255.77" width="21.06" height="3.84" fill="#ffe000"/>
<rect x="601.68" y="255.77" width="21.06" height="3.84" fill="#ffb000"/>
<rect x="622.14" y="255.77" width="20.46" height="3.84" fill="#ffc000"/>
<rect x="192.5" y="259.02" width="21.06" height="3.84" fill="#ffc000"/>
<rect x="212.96" y="259.02" width="21.06" height="3.84" fill="#ffb400"/>
<rect x="233.42" y="259.02" width="21.06" height="3.84" fill="#ffc800"/>
<rect x="253.88" y="259.02" width="21.06" height="3.84" fill="#ffe000"/>
<rect x="274.34" y="259.02" width="21.06" height="3.84" fill="#ffda00"/>
<rect x="294.8" y="259.02" width="41.52" height="3.84" fill="#ffd000"/>
<rect x="335.71" y="259.02" width="21.06" height="3.84" fill="#ffa000"/>
<rect x="356.17" y="259.02" width="21.06" height="3.84" fill="#ffa500"/>
<rect x="376.63" y="259.02" width="21.06" height="3.84" fill="#ffa000"/>
<rect x="397.09" y="259.02" width="41.52" height="3.84" fill="#ffa500"/>
<rect x="438.01" y="259.02" width="21.06" height="3.84" fill="#ffc000"/>
<rect x="458.47" y="259.02" width="21.06" height="3.84" fill="#ffa500"/>
<rect x="478.93" y="259.02" width="21.06" height="3.84" fill="#ffb000"/>
<rect x="499.39" y="259.02" width="21.06" height="3.84" fill="#ffa000"/>
<rect x="519.85" y="259.02" width="21.06" height="3.84" fill="#ffb000"/>
<rect x="540.3" y="259.02" width="21.06" height="3.84" fill="#ff9600"/>
<rect x="560.76" y="259.02" width="21.06" height="3.84" fill="#ff8500"/>
<rect x="581.22" y="259.02" width="21.06" height="3.84" fill="#ff8000"/>
<rect x="601.68" y="259.02" width="40.92" height="3.84" fill="#ff9000"/>
<rect x="192.5" y="262.26" width="41.52" height="3.84" fill="#ffc800"/>
<rect x="233.42" y="262.26" width="21.06" height="3.84" fill="#ffd500"/>
<rect x="253.88" y="262.26" width="21.06" height="3.84" fill="#ffe500"/>
<rect x="274.34" y="262.26" width="21.06" height="3.84" fill="#ffe000"/>
<rect x="294.8" y="262.26" width="21.06" height="3.84" fill="#ffc800"/>
<rect x="315.25" y="262.26" width="21.06" height="3.84" fill="#ffe000"/>
<rect x="335.71" y="262.26" width="21.06" height="3.84" fill="#ffa500"/>
<rect x="356.17" y="262.26" width="21.06" height="3.84" fill="#ffb000"/>
<rect x="376.63" y="262.26" width="21.06" height="3.84" fill="#ffa500"/>
<rect x="397.09" y="262.26" width="41.52" height="3.84" fill="#ffb000"/>
<rect x="438.01" y="262.26" width="21.06" height="3.84" fill="#ffc800"/>
<rect x="458.47" y="262.26" width="41.52" height="3.84" fill="#ffb000"/>
<rect x="499.39" y="262.26" width="41.52" height="3.84" fill="#ffb400"/>
<rect x="540.3" y="262.26" width="21.06" height="3.84" fill="#ffa000"/>
<rect x="560.76" y="262.26" width="21.06" height="3.84" fill="#ff9600"/>
<rect x="581.22" y="262.26" width="21.06" height="3.84" fill="#ffa000"/>
<rect x="601.68" y="262.26" width="21.06" height="3.84" fill="#ff7000"/>
<rect x="622.14" y="262.26" width="20.46" height="3.84" fill="#ff8000"/>
<rect x="192.5" y="265.5" width="21.06" height="3.84" fill="#ffc000"/>
<rect x="212.96" y="265.5" width="21.06" height="3.84" fill="#ffc800"/>
<rect x="233.42" y="265.5" width="21.06" height="3.84" fill="#ffd500"/>
<rect x="253.88" y="265.5" width="41.52" height="3.84" fill="#ffd000"/>
<rect x="294.8" y="265.5" width="21.06" height="3.84" fill="#ffc000"/>
<rect x="315.25" y="265.5" width="21.06" height="3.84" fill="#ffc800"/>
<rect x="335.71" y="265.5" width="21.06" height="3.84" fill="#ffb000"/>
<rect x="356.17" y="265.5" width="41.52" height="3.84" fill="#ffa500"/>
<rect x="397.09" y="265.5" width="21.06" height="3.84" fill="#ffb400"/>
<rect x="417.55" y="265.5" width="41.52" height="3.84" fill="#ffaa00"/>
<rect x="458.47" y="265.5" width="21.06" height="3.84" fill="#ffb400"/>
<rect x="478.93" y="265.5" width="61.98" height="3.84" fill="#ffb000"/>
<rect x="540.3" y="265.5" width="21.06" height="3.84" fill="#ffa500"/>
<rect x="560.76" y="265.5" width="21.06" height="3.84" fill="#ff9b00"/>
<rect x="581.22" y="265.5" width="21.06" height="3.84" fill="#ffa000"/>
<rect x="601.68" y="265.5" width="21.06" height="3.84" fill="#ff9b00"/>
<rect x="622.14" y="265.5" width="20.46" height="3.84" fill="#ff9600"/>
<rect x="192.5" y="268.74" width="21.06" height="3.84" fill="#fff000"/>
<rect x="212.96" y="268.74" width="21.06" height="3.84" fill="#ffff20"/>
<rect x="233.42" y="268.74" width="21.06" height="3.84" fill="#ffffc0"/>
<rect x="253.88" y="268.74" width="21.06" height="3.84" fill="#ffe000"/>
<rect x="274.34" y="268.74" width="21.06" height="3.84" fill="#ffff00"/>
<rect x="294.8" y="268.74" width="21.06" height="3.84" fill="#ffe800"/>
<rect x="315.25" y="268.74" width="21.06" height="3.84" fill="#ffe000"/>
<rect x="335.71" y="268.74" width="21.06" height="3.84" fill="#ff9b00"/>
<rect x="356.17" y="268.74" width="21.06" height="3.84" fill="#ffa000"/>
<rect x="376.63" y="268.74" width="21.06" height="3.84" fill="#ff9600"/>
<rect x="397.09" y="268.74" width="21.06" height="3.84" fill="#ffa500"/>
<rect x="417.55" y="268.74" width="21.06" height="3.84" fill="#ff9b00"/>
<rect x="438.01" y="268.74" width="41.52" height="3.84" fill="#ffa500"/>
<rect x="478.93" y="268.74" width="21.06" height="3.84" fill="#ffb400"/>
<rect x="499.39" y="268.74" width="21.06" height="3.84" fill="#ffa000"/>
<rect x="519.85" y="268.74" width="21.06" height="3.84" fill="#ffaa00"/>
<rect x="540.3" y="268.74" width="21.06" height="3.84" fill="#ff9000"/>
<rect x="560.76" y="268.74" width="21.06" height="3.84" fill="#ff8500"/>
<rect x="581.22" y="268.74" width="21.06" height="3.84" fill="#ff9b00"/>
<rect x="601.68" y="268.74" width="21.06" height="3.84" fill="#ff9600"/>
<rect x="622.14" y="268.74" width="20.46" height="3.84" fill="#ff5000"/>
<rect x="192.5" y="271.98" width="21.06" height="3.84" fill="#ffffe1"/>
<rect x="212.96" y="271.98" width="21.06" height="3.84" fill="#ffffc0"/>
<rect x="233.42" y="271.98" width="21.06" height="3.84" fill="#ffe000"/>
<rect x="253.88" y="271.98" width="21.06" height="3.84" fill="#fff000"/>
<rect x="274.34" y="271.98" width="21.06" height="3.84" fill="#ffff00"/>
<rect x="294.8" y="271.98" width="21.06" height="3.84" fill="#fff000"/>
<rect x="315.25" y="271.98" width="21.06" height="3.84" fill="#ffd000"/>
<rect x="335.71" y="271.98" width="41.52" height="3.84" fill="#ffa500"/>
<rect x="376.63" y="271.98" width="21.06" height="3.84" fill="#ffa000"/>
<rect x="397.09" y="271.98" width="21.06" height="3.84" fill="#ffb000"/>
<rect x="417.55" y="271.98" width="21.06" height="3.84" fill="#ffa500"/>
<rect x="438.01" y="271.98" width="21.06" height="3.84" fill="#ffaa00"/>
<rect x="458.47" y="271.98" width="21.06" height="3.84" fill="#ffa500"/>
<rect x="478.93" y="271.98" width="21.06" height="3.84" fill="#ffb400"/>
<rect x="499.39" y="271.98" width="21.06" height="3.84" fill="#ffa500"/>
<rect x="519.85" y="271.98" width="41.52" height="3.84" fill="#ffb000"/>
<rect x="560.76" y="271.98" width="21.06" height="3.84" fill="#ff8500"/>
<rect x="581.22" y="271.98" width="41.52" height="3.84" fill="#ffa000"/>
<rect x="622.14" y="271.98" width="20.46" height="3.84" fill="#ff5500"/>
<rect x="192.5" y="275.23" width="21.06" height="3.84" fill="#ffc800"/>
<rect x="212.96" y="275.23" width="21.06" height="3.84" fill="#ffcc00"/>
<rect x="233.42" y="275.23" width="21.06" height="3.84" fill="#ffd000"/>
<rect x="253.88" y="275.23" width="21.06" height="3.84" fill="#ffe000"/>
<rect x="274.34" y="275.23" width="21.06" height="3.84" fill="#ffd800"/>
<rect x="294.8" y="275.23" width="21.06" height="3.84" fill="#ffd000"/>
<rect x="315.25" y="275.23" width="21.06" height="3.84" fill="#ffe000"/>
<rect x="335.71" y="275.23" width="21.06" height="3.84" fill="#ffc800"/>
<rect x="356.17" y="275.23" width="21.06" height="3.84" fill="#ffd000"/>
<rect x="376.63" y="275.23" width="21.06" height="3.84" fill="#ffd800"/>
<rect x="397.09" y="275.23" width="21.06" height="3.84" fill="#ffe000"/>
<rect x="417.55" y="275.23" width="21.06" height="3.84" fill="#fff000"/>
<rect x="438.01" y="275.23" width="21.06" height="3.84" fill="#ffd000"/>
<rect x="458.47" y="275.23" width="21.06" height="3.84" fill="#ffc800"/>
<rect x="478.93" y="275.23" width="21.06" height="3.84" fill="#ffd000"/>
<rect x="499.39" y="275.23" width="21.06" height="3.84" fill="#ffc800"/>
<rect x="519.85" y="275.23" width="21.06" height="3.84" fill="#ffe000"/>
<rect x="540.3" y="275.23" width="21.06" height="3.84" fill="#ffb000"/>
<rect x="560.76" y="275.23" width="21.06" height="3.84" fill="#ff9600"/>
<rect x="581.22" y="275.23" width="21.06" height="3.84" fill="#ffa500"/>
<rect x="601.68" y="275.23" width="21.06" height="3.84" fill="#ff8a00"/>
<rect x="622.14" y="275.23" width="20.46" height="3.84" fill="#ffa000"/>
<rect x="192.5" y="278.47" width="41.52" height="3.84" fill="#ffe000"/>
<rect x="233.42" y="278.47" width="21.06" height="3.84" fill="#ffd000"/>
<rect x="253.88" y="278.47" width="21.06" height="3.84" fill="#fff000"/>
<rect x="274.34" y="278.47" width="21.06" height="3.84" fill="#ffe800"/>
<rect x="294.8" y="278.47" width="21.06" height="3.84" fill="#ffe000"/>
<rect x="315.25" y="278.47" width="21.06" height="3.84" fill="#ffe800"/>
<rect x="335.71" y="278.47" width="21.06" height="3.84" fill="#ffd000"/>
<rect x="356.17" y="278.47" width="21.06" height="3.84" fill="#ffc800"/>
<rect x="376.63" y="278.47" width="41.52" height="3.84" fill="#ffe000"/>
<rect x="417.55" y="278.47" width="21.06" height="3.84" fill="#ffd800"/>
<rect x="438.01" y="278.47" width="21.06" height="3.84" fill="#ffe800"/>
<rect x="458.47" y="278.47" width="41.52" height="3.84" fill="#ffd800"/>
<rect x="499.39" y="278.47" width="21.06" height="3.84" fill="#ffd000"/>
<rect x="519.85" y="278.47" width="21.06" height="3.84" fill="#ffe000"/>
<rect x="540.3" y="278.47" width="21.06" height="3.84" fill="#ffb000"/>
<rect x="560.76" y="278.47" width="21.06" height="3.84" fill="#ff9b00"/>
<rect x="581.22" y="278.47" width="21.06" height="3.84" fill="#ffa000"/>
<rect x="601.68" y="278.47" width="40.92" height="3.84" fill="#ffa500"/>
<rect x="192.5" y="281.71" width="21.06" height="3.84" fill="#ffe800"/>
<rect x="212.96" y="281.71" width="21.06" height="3.84" fill="#ffff40"/>
<rect x="233.42" y="281.71" width="21.06" height="3.84" fill="#fff000"/>
<rect x="253.88" y="281.71" width="21.06" height="3.84" fill="#fffff6"/>
<rect x="274.34" y="281.71" width="21.06" height="3.84" fill="#ffff80"/>
<rect x="294.8" y="281.71" width="21.06" height="3.84" fill="#fff000"/>
<rect x="315.25" y="281.71" width="21.06" height="3.84" fill="#ffffa0"/>
<rect x="335.71" y="281.71" width="21.06" height="3.84" fill="#fff000"/>
<rect x="356.17" y="281.71" width="21.06" height="3.84" fill="#ffe000"/>
<rect x="376.63" y="281.71" width="21.06" height="3.84" fill="#fff000"/>
<rect x="397.09" y="281.71" width="21.06" height="3.84" fill="#ffe800"/>
<rect x="417.55" y="281.71" width="21.06" height="3.84" fill="#ffd000"/>
<rect x="438.01" y="281.71" width="21.06" height="3.84" fill="#ffe000"/>
<rect x="458.47" y="281.71" width="21.06" height="3.84" fill="#ffd000"/>
<rect x="478.93" y="281.71" width="41.52" height="3.84" fill="#ffe000"/>
<rect x="519.85" y="281.71" width="21.06" height="3.84" fill="#ffe800"/>
<rect x="540.3" y="281.71" width="21.06" height="3.84" fill="#ffc000"/>
<rect x="560.76" y="281.71" width="21.06" height="3.84" fill="#ff8500"/>
<rect x="581.22" y="281.71" width="21.06" height="3.84" fill="#ff9600"/>
<rect x="601.68" y="281.71" width="21.06" height="3.84" fill="#ffa000"/>
<rect x="622.14" y="281.71" width="20.46" height="3.84" fill="#ff7000"/>
<rect x="192.5" y="284.95" width="21.06" height="3.84" fill="#ffff91"/>
<rect x="212.96" y="284.95" width="21.06" height="3.84" fill="#fffff6"/>
<rect x="233.42" y="284.95" width="21.06" height="3.84" fill="#ffff80"/>
<rect x="253.88" y="284.95" width="21.06" height="3.84" fill="#fff000"/>
<rect x="274.34" y="284.95" width="41.52" height="3.84" fill="#fffff6"/>
<rect x="315.25" y="284.95" width="21.06" height="3.84" fill="#ffffaf"/>
<rect x="335.71" y="284.95" width="21.06" height="3.84" fill="#ffd000"/>
<rect x="356.17" y="284.95" width="21.06" height="3.84" fill="#ffe800"/>
<rect x="376.63" y="284.95" width="41.52" height="3.84" fill="#ffd800"/>
<rect x="417.55" y="284.95" width="21.06" height="3.84" fill="#ffd000"/>
<rect x="438.01" y="284.95" width="21.06" height="3.84" fill="#ffb400"/>
<rect x="458.47" y="284.95" width="21.06" height="3.84" fill="#ffd000"/>
<rect x="478.93" y="284.95" width="21.06" height="3.84" fill="#ffd800"/>
<rect x="499.39" y="284.95" width="21.06" height="3.84" fill="#ffb400"/>
<rect x="519.85" y="284.95" width="21.06" height="3.84" fill="#ffc000"/>
<rect x="540.3" y="284.95" width="21.06" height="3.84" fill="#fff000"/>
<rect x="560.76" y="284.95" width="21.06" height="3.84" fill="#ffff00"/>
<rect x="581.22" y="284.95" width="21.06" height="3.84" fill="#ffa000"/>
<rect x="601.68" y="284.95" width="21.06" height="3.84" fill="#ffb000"/>
<rect x="622.14" y="284.95" width="20.46" height="3.84" fill="#ff5000"/>
<rect x="192.5" y="288.19" width="21.06" height="3.84" fill="#fffff6"/>
<rect x="212.96" y="288.19" width="21.06" height="3.84" fill="#ffffaf"/>
<rect x="233.42" y="288.19" width="21.06" height="3.84" fill="#ffffa0"/>
<rect x="253.88" y="288.19" width="21.06" height="3.84" fill="#ffe000"/>
<rect x="274.34" y="288.19" width="41.52" height="3.84" fill="#ffff5f"/>
<rect x="315.25" y="288.19" width="21.06" height="3.84" fill="#ffe000"/>
<rect x="335.71" y="288.19" width="21.06" height="3.84" fill="#ffe800"/>
<rect x="356.17" y="288.19" width="21.06" height="3.84" fill="#ffff40"/>
<rect x="376.63" y="288.19" width="21.06" height="3.84" fill="#ffe000"/>
<rect x="397.09" y="288.19" width="21.06" height="3.84" fill="#ffc800"/>
<rect x="417.55" y="288.19" width="61.98" height="3.84" fill="#ffe800"/>
<rect x="478.93" y="288.19" width="21.06" height="3.84" fill="#ffc000"/>
<rect x="499.39" y="288.19" width="61.98" height="3.84" fill="#ffe800"/>
<rect x="560.76" y="288.19" width="21.06" height="3.84" fill="#ffd000"/>
<rect x="581.22" y="288.19" width="21.06" height="3.84" fill="#ffc000"/>
<rect x="601.68" y="288.19" width="21.06" height="3.84" fill="#ffb000"/>
<rect x="622.14" y="288.19" width="20.46" height="3.84" fill="#ffa000"/>
<rect x="192.5" y="291.44" width="21.06" height="3.84" fill="#ffb000"/>
<rect x="212.96" y="291.44" width="21.06" height="3.84" fill="#ffa500"/>
<rect x="233.42" y="291.44" width="21.06" height="3.84" fill="#ffb800"/>
<rect x="253.88" y="291.44" width="21.06" height="3.84" fill="#ffa000"/>
<rect x="274.34" y="291.44" width="21.06" height="3.84" fill="#ffb000"/>
<rect x="294.8" y="291.44" width="41.52" height="3.84" fill="#ffa000"/>
<rect x="335.71" y="291.44" width="21.06" height="3.84" fill="#ffff00"/>
<rect x="356.17" y="291.44" width="21.06" height="3.84" fill="#ffff40"/>
<rect x="376.63" y="291.44" width="21.06" height="3.84" fill="#fffff6"/>
<rect x="397.09" y="291.44" width="21.06" height="3.84" fill="#ffe000"/>
<rect x="417.55" y="291.44" width="21.06" height="3.84" fill="#ffff5f"/>
<rect x="438.01" y="291.44" width="21.06" height="3.84" fill="#fff000"/>
<rect x="458.47" y="291.44" width="21.06" height="3.84" fill="#ffff5f"/>
<rect x="478.93" y="291.44" width="41.52" height="3.84" fill="#fff000"/>
<rect x="519.85" y="291.44" width="21.06" height="3.84" fill="#ffff40"/>
<rect x="540.3" y="291.44" width="21.06" height="3.84" fill="#ffff00"/>
<rect x="560.76" y="291.44" width="21.06" height="3.84" fill="#ffff20"/>
<rect x="581.22" y="291.44" width="21.06" height="3.84" fill="#ffe000"/>
<rect x="601.68" y="291.44" width="21.06" height="3.84" fill="#ffd000"/>
<rect x="622.14" y="291.44" width="20.46" height="3.84" fill="#ffb000"/>
<rect x="192.5" y="294.68" width="21.06" height="3.84" fill="#ffd000"/>
<rect x="212.96" y="294.68" width="21.06" height="3.84" fill="#ffc800"/>
<rect x="233.42" y="294.68" width="21.06" height="3.84" fill="#ffd800"/>
<rect x="253.88" y="294.68" width="41.52" height="3.84" fill="#ffe000"/>
<rect x="294.8" y="294.68" width="21.06" height="3.84" fill="#ffd800"/>
<rect x="315.25" y="294.68" width="21.06" height="3.84" fill="#ffe800"/>
<rect x="335.71" y="294.68" width="41.52" height="3.84" fill="#fff000"/>
<rect x="376.63" y="294.68" width="21.06" height="3.84" fill="#ffe800"/>
<rect x="397.09" y="294.68" width="21.06" height="3.84" fill="#fff000"/>
<rect x="417.55" y="294.68" width="21.06" height="3.84" fill="#ffe800"/>
<rect x="438.01" y="294.68" width="21.06" height="3.84" fill="#ffe000"/>
<rect x="458.47" y="294.68" width="21.06" height="3.84" fill="#fff000"/>
<rect x="478.93" y="294.68" width="21.06" height="3.84" fill="#ffe800"/>
<rect x="499.39" y="294.68" width="21.06" height="3.84" fill="#fff000"/>
<rect x="519.85" y="294.68" width="21.06" height="3.84" fill="#ffe800"/>
<rect x="540.3" y="294.68" width="21.06" height="3.84" fill="#fff000"/>
<rect x="560.76" y="294.68" width="21.06" height="3.84" fill="#ffff00"/>
<rect x="581.22" y="294.68" width="21.06" height="3.84" fill="#ffff80"/>
<rect x="601.68" y="294.68" width="21.06" height="3.84" fill="#ffff5f"/>
<rect x="622.14" y="294.68" width="20.46" height="3.84" fill="#fffff6"/>
<rect x="192.5" y="297.92" width="61.98" height="3.84" fill="#fff000"/>
<rect x="253.88" y="297.92" width="21.06" height="3.84" fill="#ffff91"/>
<rect x="274.34" y="297.92" width="21.06" height="3.84" fill="#ffff5f"/>
<rect x="294.8" y="297.92" width="21.06" height="3.84" fill="#ffe800"/>
<rect x="315.25" y="297.92" width="21.06" height="3.84" fill="#fff000"/>
<rect x="335.71" y="297.92" width="21.06" height="3.84" fill="#ffe000"/>
<rect x="356.17" y="297.92" width="21.06" height="3.84" fill="#fff000"/>
<rect x="376.63" y="297.92" width="21.06" height="3.84" fill="#ffe800"/>
<rect x="397.09" y="297.92" width="21.06" height="3.84" fill="#fff000"/>
<rect x="417.55" y="297.92" width="21.06" height="3.84" fill="#ffe800"/>
<rect x="438.01" y="297.92" width="21.06" height="3.84" fill="#ffe000"/>
<rect x="458.47" y="297.92" width="102.9" height="3.84" fill="#fff000"/>
<rect x="560.76" y="297.92" width="21.06" height="3.84" fill="#ffc000"/>
<rect x="581.22" y="297.92" width="21.06" height="3.84" fill="#ffc800"/>
<rect x="601.68" y="297.92" width="21.06" height="3.84" fill="#ffff00"/>
<rect x="622.14" y="297.92" width="20.46" height="3.84" fill="#ffe800"/>
<rect x="192.5" y="301.16" width="21.06" height="3.84" fill="#fff000"/>
<rect x="212.96" y="301.16" width="21.06" height="3.84" fill="#ffff05"/>
<rect x="233.42" y="301.16" width="21.06" height="3.84" fill="#ffff00"/>
<rect x="253.88" y="301.16" width="21.06" height="3.84" fill="#fffff6"/>
<rect x="274.34" y="301.16" width="21.06" height="3.84" fill="#fff000"/>
<rect x="294.8" y="301.16" width="21.06" height="3.84" fill="#ffff91"/>
<rect x="315.25" y="301.16" width="21.06" height="3.84" fill="#ffff5f"/>
<rect x="335.71" y="301.16" width="21.06" height="3.84" fill="#fff000"/>
<rect x="356.17" y="301.16" width="21.06" height="3.84" fill="#ffff00"/>
<rect x="376.63" y="301.16" width="21.06" height="3.84" fill="#ffe000"/>
<rect x="397.09" y="301.16" width="41.52" height="3.84" fill="#ffff5f"/>
<rect x="438.01" y="301.16" width="61.98" height="3.84" fill="#fff000"/>
<rect x="499.39" y="301.16" width="21.06" height="3.84" fill="#ffff20"/>
<rect x="519.85" y="301.16" width="21.06" height="3.84" fill="#fff000"/>
<rect x="540.3" y="301.16" width="21.06" height="3.84" fill="#ffe800"/>
<rect x="560.76" y="301.16" width="21.06" height="3.84" fill="#ffe000"/>
<rect x="581.22" y="301.16" width="21.06" height="3.84" fill="#ffff05"/>
<rect x="601.68" y="301.16" width="21.06" height="3.84" fill="#fff000"/>
<rect x="622.14" y="301.16" width="20.46" height="3.84" fill="#ffff00"/>
<rect x="192.5" y="304.4" width="21.06" height="3.84" fill="#ffff40"/>
<rect x="212.96" y="304.4" width="21.06" height="3.84" fill="#ffff91"/>
<rect x="233.42" y="304.4" width="21.06" height="3.84" fill="#ffff50"/>
<rect x="253.88" y="304.4" width="61.98" height="3.84" fill="#fffff6"/>
<rect x="315.25" y="304.4" width="21.06" height="3.84" fill="#ffff91"/>
<rect x="335.71" y="304.4" width="21.06" height="3.84" fill="#ffd800"/>
<rect x="356.17" y="304.4" width="21.06" height="3.84" fill="#fff000"/>
<rect x="376.63" y="304.4" width="21.06" height="3.84" fill="#ffc800"/>
<rect x="397.09" y="304.4" width="21.06" height="3.84" fill="#fff000"/>
<rect x="417.55" y="304.4" width="21.06" height="3.84" fill="#ffd800"/>
<rect x="438.01" y="304.4" width="21.06" height="3.84" fill="#fffff6"/>
<rect x="458.47" y="304.4" width="21.06" height="3.84" fill="#ffd800"/>
<rect x="478.93" y="304.4" width="21.06" height="3.84" fill="#fff000"/>
<rect x="499.39" y="304.4" width="21.06" height="3.84" fill="#ffff40"/>
<rect x="519.85" y="304.4" width="41.52" height="3.84" fill="#fff000"/>
<rect x="560.76" y="304.4" width="21.06" height="3.84" fill="#ffd000"/>
<rect x="581.22" y="304.4" width="21.06" height="3.84" fill="#ffff40"/>
<rect x="601.68" y="304.4" width="21.06" height="3.84" fill="#ffc800"/>
<rect x="622.14" y="304.4" width="20.46" height="3.84" fill="#ffb000"/>
<rect x="192.5" y="307.65" width="21.06" height="3.84" fill="#fffff6"/>
<rect x="212.96" y="307.65" width="21.06" height="3.84" fill="#ffff5f"/>
<rect x="233.42" y="307.65" width="41.52" height="3.84" fill="#ffff91"/>
<rect x="274.34" y="307.65" width="21.06" height="3.84" fill="#fffff6"/>
<rect x="294.8" y="307.65" width="41.52" height="3.84" fill="#ffff40"/>
<rect x="335.71" y="307.65" width="21.06" height="3.84" fill="#ffe000"/>
<rect x="356.17" y="307.65" width="21.06" height="3.84" fill="#fff000"/>
<rect x="376.63" y="307.65" width="21.06" height="3.84" fill="#ffe000"/>
<rect x="397.09" y="307.65" width="21.06" height="3.84" fill="#fffff6"/>
<rect x="417.55" y="307.65" width="61.98" height="3.84" fill="#fff000"/>
<rect x="478.93" y="307.65" width="21.06" height="3.84" fill="#ffe000"/>
<rect x="499.39" y="307.65" width="21.06" height="3.84" fill="#ffff20"/>
<rect x="519.85" y="307.65" width="21.06" height="3.84" fill="#ffd000"/>
<rect x="540.3" y="307.65" width="21.06" height="3.84" fill="#ffff20"/>
<rect x="560.76" y="307.65" width="21.06" height="3.84" fill="#ffe000"/>
<rect x="581.22" y="307.65" width="21.06" height="3.84" fill="#fffff6"/>
<rect x="601.68" y="307.65" width="21.06" height="3.84" fill="#ffd800"/>
<rect x="622.14" y="307.65" width="20.46" height="3.84" fill="#fffff6"/>
<rect x="192.5" y="310.89" width="225.65" height="3.84" fill="#fffff6"/>
<rect x="417.55" y="310.89" width="21.06" height="3.84" fill="#ffe000"/>
<rect x="438.01" y="310.89" width="21.06" height="3.84" fill="#ffff40"/>
<rect x="458.47" y="310.89" width="21.06" height="3.84" fill="#ffff5f"/>
<rect x="478.93" y="310.89" width="21.06" height="3.84" fill="#fffff6"/>
<rect x="499.39" y="310.89" width="21.06" height="3.84" fill="#ffff20"/>
<rect x="519.85" y="310.89" width="21.06" height="3.84" fill="#ffd000"/>
<rect x="540.3" y="310.89" width="21.06" height="3.84" fill="#fffff6"/>
<rect x="560.76" y="310.89" width="41.52" height="3.84" fill="#fff000"/>
<rect x="601.68" y="310.89" width="21.06" height="3.84" fill="#ffb400"/>
<rect x="622.14" y="310.89" width="20.46" height="3.84" fill="#ffc800"/>
<rect x="192.5" y="314.13" width="123.35" height="3.84" fill="#fffff6"/>
<rect x="315.25" y="314.13" width="21.06" height="3.84" fill="#ffff91"/>
<rect x="335.71" y="314.13" width="61.98" height="3.84" fill="#fffff6"/>
<rect x="397.09" y="314.13" width="21.06" height="3.84" fill="#fff000"/>
<rect x="417.55" y="314.13" width="21.06" height="3.84" fill="#ffff05"/>
<rect x="438.01" y="314.13" width="21.06" height="3.84" fill="#fff000"/>
<rect x="458.47" y="314.13" width="21.06" height="3.84" fill="#ffff5f"/>
<rect x="478.93" y="314.13" width="61.98" height="3.84" fill="#fffff6"/>
<rect x="540.3" y="314.13" width="21.06" height="3.84" fill="#ffffaf"/>
<rect x="560.76" y="314.13" width="21.06" height="3.84" fill="#ffff00"/>
<rect x="581.22" y="314.13" width="21.06" height="3.84" fill="#ffe000"/>
<rect x="601.68" y="314.13" width="21.06" height="3.84" fill="#ffe800"/>
<rect x="622.14" y="314.13" width="20.46" height="3.84" fill="#ffe000"/>
<rect x="192.5" y="317.37" width="102.9" height="3.84" fill="#fffff6"/>
<rect x="294.8" y="317.37" width="21.06" height="3.84" fill="#ffff40"/>
<rect x="315.25" y="317.37" width="21.06" height="3.84" fill="#fffff6"/>
<rect x="335.71" y="317.37" width="21.06" height="3.84" fill="#fff000"/>
<rect x="356.17" y="317.37" width="184.73" height="3.84" fill="#fffff6"/>
<rect x="540.3" y="317.37" width="21.06" height="3.84" fill="#ffffa0"/>
<rect x="560.76" y="317.37" width="21.06" height="3.84" fill="#fff000"/>
<rect x="581.22" y="317.37" width="21.06" height="3.84" fill="#ffc800"/>
<rect x="601.68" y="317.37" width="21.06" height="3.84" fill="#ffd000"/>
<rect x="622.14" y="317.37" width="20.46" height="3.84" fill="#ffc000"/>
<rect x="192.5" y="320.61" width="123.35" height="3.84" fill="#fffff6"/>
<rect x="315.25" y="320.61" width="21.06" height="3.84" fill="#ffff91"/>
<rect x="335.71" y="320.61" width="205.19" height="3.84" fill="#fffff6"/>
<rect x="540.3" y="320.61" width="21.06" height="3.84" fill="#ffffa0"/>
<rect x="560.76" y="320.61" width="21.06" height="3.84" fill="#ffd800"/>
<rect x="581.22" y="320.61" width="21.06" height="3.84" fill="#ffa500"/>
<rect x="601.68" y="320.61" width="21.06" height="3.84" fill="#ffe000"/>
<rect x="622.14" y="320.61" width="20.46" height="3.84" fill="#ffc000"/>
<rect x="192.5" y="323.85" width="123.35" height="3.84" fill="#fffff6"/>
<rect x="315.25" y="323.85" width="21.06" height="3.84" fill="#ffff91"/>
<rect x="335.71" y="323.85" width="184.73" height="3.84" fill="#fffff6"/>
<rect x="519.85" y="323.85" width="21.06" height="3.84" fill="#fff000"/>
<rect x="540.3" y="323.85" width="21.06" height="3.84" fill="#ffffaf"/>
<rect x="560.76" y="323.85" width="21.06" height="3.84" fill="#fff000"/>
<rect x="581.22" y="323.85" width="41.52" height="3.84" fill="#ffe000"/>
<rect x="622.14" y="323.85" width="20.46" height="3.84" fill="#ff8000"/>
<rect x="192.5" y="327.1" width="389.32" height="3.84" fill="#fffff6"/>
<rect x="581.22" y="327.1" width="21.06" height="3.84" fill="#ffff5f"/>
<rect x="601.68" y="327.1" width="21.06" height="3.84" fill="#ffd000"/>
<rect x="622.14" y="327.1" width="20.46" height="3.84" fill="#ffa000"/>
<rect x="192.5" y="330.34" width="348.4" height="3.84" fill="#fffff6"/>
<rect x="540.3" y="330.34" width="21.06" height="3.84" fill="#ffff91"/>
<rect x="560.76" y="330.34" width="41.52" height="3.84" fill="#fffff6"/>
<rect x="601.68" y="330.34" width="21.06" height="3.84" fill="#fff000"/>
<rect x="622.14" y="330.34" width="20.46" height="3.84" fill="#ffe000"/>
<rect x="192.5" y="333.58" width="61.98" height="3.84" fill="#fffff6"/>
<rect x="253.88" y="333.58" width="21.06" height="3.84" fill="#ffff5f"/>
<rect x="274.34" y="333.58" width="21.06" height="3.84" fill="#ffff91"/>
<rect x="294.8" y="333.58" width="347.8" height="3.84" fill="#fffff6"/>
<rect x="192.5" y="336.82" width="21.06" height="3.84" fill="#ffff91"/>
<rect x="212.96" y="336.82" width="429.64" height="3.84" fill="#fffff6"/>
<rect x="192.5" y="340.06" width="450.1" height="3.84" fill="#fffff6"/>
<rect x="192.5" y="343.31" width="450.1" height="3.84" fill="#fffff6"/>
<rect x="192.5" y="346.55" width="21.06" height="3.84" fill="#ffff91"/>
<rect x="212.96" y="346.55" width="21.06" height="3.84" fill="#ffff40"/>
<rect x="233.42" y="346.55" width="21.06" height="3.84" fill="#ffff5f"/>
<rect x="253.88" y="346.55" width="21.06" height="3.84" fill="#ffff00"/>
<rect x="274.34" y="346.55" width="21.06" height="3.84" fill="#ffff20"/>
<rect x="294.8" y="346.55" width="21.06" height="3.84" fill="#ffff40"/>
<rect x="315.25" y="346.55" width="21.06" height="3.84" fill="#fff000"/>
<rect x="335.71" y="346.55" width="21.06" height="3.84" fill="#fffff6"/>
<rect x="356.17" y="346.55" width="21.06" height="3.84" fill="#fff000"/>
<rect x="376.63" y="346.55" width="21.06" height="3.84" fill="#ffff5f"/>
<rect x="397.09" y="346.55" width="21.06" height="3.84" fill="#fffff6"/>
<rect x="417.55" y="346.55" width="21.06" height="3.84" fill="#ffff91"/>
<rect x="438.01" y="346.55" width="21.06" height="3.84" fill="#fff000"/>
<rect x="458.47" y="346.55" width="21.06" height="3.84" fill="#ffff20"/>
<rect x="478.93" y="346.55" width="41.52" height="3.84" fill="#fff000"/>
<rect x="519.85" y="346.55" width="21.06" height="3.84" fill="#ffff5f"/>
<rect x="540.3" y="346.55" width="41.52" height="3.84" fill="#ffd800"/>
<rect x="581.22" y="346.55" width="21.06" height="3.84" fill="#ffb000"/>
<rect x="601.68" y="346.55" width="21.06" height="3.84" fill="#ff9000"/>
<rect x="622.14" y="346.55" width="20.46" height="3.84" fill="#ffc000"/>
<rect x="192.5" y="349.79" width="21.06" height="3.84" fill="#ffff91"/>
<rect x="212.96" y="349.79" width="21.06" height="3.84" fill="#ffffa0"/>
<rect x="233.42" y="349.79" width="21.06" height="3.84" fill="#ffff91"/>
<rect x="253.88" y="349.79" width="102.9" height="3.84" fill="#fffff6"/>
<rect x="356.17" y="349.79" width="21.06" height="3.84" fill="#fff000"/>
<rect x="376.63" y="349.79" width="21.06" height="3.84" fill="#ffff40"/>
<rect x="397.09" y="349.79" width="41.52" height="3.84" fill="#fffff6"/>
<rect x="438.01" y="349.79" width="21.06" height="3.84" fill="#ffff20"/>
<rect x="458.47" y="349.79" width="21.06" height="3.84" fill="#ffe800"/>
<rect x="478.93" y="349.79" width="21.06" height="3.84" fill="#fff000"/>
<rect x="499.39" y="349.79" width="41.52" height="3.84" fill="#fffff6"/>
<rect x="540.3" y="349.79" width="41.52" height="3.84" fill="#ffe800"/>
<rect x="581.22" y="349.79" width="21.06" height="3.84" fill="#ffc800"/>
<rect x="601.68" y="349.79" width="40.92" height="3.84" fill="#ffb000"/>
<rect x="192.5" y="353.03" width="21.06" height="3.84" fill="#ffff00"/>
<rect x="212.96" y="353.03" width="21.06" height="3.84" fill="#ffff40"/>
<rect x="233.42" y="353.03" width="21.06" height="3.84" fill="#ffff20"/>
<rect x="253.88" y="353.03" width="41.52" height="3.84" fill="#ffff40"/>
<rect x="294.8" y="353.03" width="21.06" height="3.84" fill="#ffff00"/>
<rect x="315.25" y="353.03" width="21.06" height="3.84" fill="#fff000"/>
<rect x="335.71" y="353.03" width="61.98" height="3.84" fill="#fffff6"/>
<rect x="397.09" y="353.03" width="41.52" height="3.84" fill="#fff000"/>
<rect x="438.01" y="353.03" width="21.06" height="3.84" fill="#fffff6"/>
<rect x="458.47" y="353.03" width="21.06" height="3.84" fill="#ffff5f"/>
<rect x="478.93" y="353.03" width="21.06" height="3.84" fill="#fff000"/>
<rect x="499.39" y="353.03" width="21.06" height="3.84" fill="#ffff5f"/>
<rect x="519.85" y="353.03" width="21.06" height="3.84" fill="#ffff20"/>
<rect x="540.3" y="353.03" width="21.06" height="3.84" fill="#ffe000"/>
<rect x="560.76" y="353.03" width="21.06" height="3.84" fill="#ffff20"/>
<rect x="581.22" y="353.03" width="21.06" height="3.84" fill="#ffb400"/>
<rect x="601.68" y="353.03" width="21.06" height="3.84" fill="#ffa000"/>
<rect x="622.14" y="353.03" width="20.46" height="3.84" fill="#ffc000"/>
<rect x="192.5" y="356.27" width="21.06" height="3.84" fill="#ffff5f"/>
<rect x="212.96" y="356.27" width="164.27" height="3.84" fill="#fffff6"/>
<rect x="376.63" y="356.27" width="21.06" height="3.84" fill="#ffff40"/>
<rect x="397.09" y="356.27" width="102.9" height="3.84" fill="#fffff6"/>
<rect x="499.39" y="356.27" width="21.06" height="3.84" fill="#ffff40"/>
<rect x="519.85" y="356.27" width="21.06" height="3.84" fill="#fff000"/>
<rect x="540.3" y="356.27" width="21.06" height="3.84" fill="#ffff5f"/>
<rect x="560.76" y="356.27" width="21.06" height="3.84" fill="#ffff00"/>
<rect x="581.22" y="356.27" width="21.06" height="3.84" fill="#ffa500"/>
<rect x="601.68" y="356.27" width="21.06" height="3.84" fill="#ff9600"/>
<rect x="622.14" y="356.27" width="20.46" height="3.84" fill="#ff3000"/>
<rect x="192.5" y="359.52" width="61.98" height="3.84" fill="#fffff6"/>
<rect x="253.88" y="359.52" width="21.06" height="3.84" fill="#ffff91"/>
<rect x="274.34" y="359.52" width="21.06" height="3.84" fill="#ffffa0"/>
<rect x="294.8" y="359.52" width="205.19" height="3.84" fill="#fffff6"/>
<rect x="499.39" y="359.52" width="21.06" height="3.84" fill="#ffff40"/>
<rect x="519.85" y="359.52" width="21.06" height="3.84" fill="#fffff6"/>
<rect x="540.3" y="359.52" width="21.06" height="3.84" fill="#fff000"/>
<rect x="560.76" y="359.52" width="21.06" height="3.84" fill="#ff9000"/>
<rect x="581.22" y="359.52" width="21.06" height="3.84" fill="#ffb000"/>
<rect x="601.68" y="359.52" width="21.06" height="3.84" fill="#fff000"/>
<rect x="622.14" y="359.52" width="20.46" height="3.84" fill="#ff4000"/>
<rect x="192.5" y="362.76" width="21.06" height="3.24" fill="#fffff6"/>
<rect x="212.96" y="362.76" width="21.06" height="3.24" fill="#ffff40"/>
<rect x="233.42" y="362.76" width="21.06" height="3.24" fill="#ffff5f"/>
<rect x="253.88" y="362.76" width="21.06" height="3.24" fill="#ffff40"/>
<rect x="274.34" y="362.76" width="21.06" height="3.24" fill="#ffff00"/>
<rect x="294.8" y="362.76" width="21.06" height="3.24" fill="#ffff91"/>
<rect x="315.25" y="362.76" width="21.06" height="3.24" fill="#fff000"/>
<rect x="335.71" y="362.76" width="41.52" height="3.24" fill="#fffff6"/>
<rect x="376.63" y="362.76" width="21.06" height="3.24" fill="#fff000"/>
<rect x="397.09" y="362.76" width="21.06" height="3.24" fill="#ffe000"/>
<rect x="417.55" y="362.76" width="21.06" height="3.24" fill="#fffff6"/>
<rect x="438.01" y="362.76" width="21.06" height="3.24" fill="#fff000"/>
<rect x="458.47" y="362.76" width="21.06" height="3.24" fill="#ffff40"/>
<rect x="478.93" y="362.76" width="21.06" height="3.24" fill="#fff000"/>
<rect x="499.39" y="362.76" width="21.06" height="3.24" fill="#ffe800"/>
<rect x="519.85" y="362.76" width="21.06" height="3.24" fill="#ffe000"/>
<rect x="540.3" y="362.76" width="21.06" height="3.24" fill="#fff000"/>
<rect x="560.76" y="362.76" width="21.06" height="3.24" fill="#fffff6"/>
<rect x="581.22" y="362.76" width="21.06" height="3.24" fill="#ff8000"/>
<rect x="601.68" y="362.76" width="21.06" height="3.24" fill="#fffff6"/>
<rect x="622.14" y="362.76" width="20.46" height="3.24" fill="#ff3000"/>
<path d="M212.96 165.0V366.0M212.96 145V160 M233.42 165.0V366.0M233.42 145V160 M253.88 165.0V366.0M253.88 145V160 M274.34 165.0V366.0M274.34 145V160 M294.8 165.0V366.0M294.8 145V160 M315.25 165.0V366.0M315.25 145V160 M335.71 165.0V366.0M335.71 145V160 M356.17 165.0V366.0M356.17 145V160 M376.63 165.0V366.0M376.63 145V160 M397.09 165.0V366.0M397.09 145V160 M417.55 165.0V366.0M417.55 145V160 M438.01 165.0V366.0M438.01 145V160 M458.47 165.0V366.0M458.47 145V160 M478.93 165.0V366.0M478.93 145V160 M499.39 165.0V366.0M499.39 145V160 M519.85 165.0V366.0M519.85 145V160 M540.3 165.0V366.0M540.3 145V160 M560.76 165.0V366.0M560.76 145V160 M581.22 165.0V366.0M581.22 145V160 M601.68 165.0V366.0M601.68 145V160 M622.14 165.0V366.0M622.14 145V160" stroke="#fff" stroke-opacity="0.13" stroke-width="0.8" fill="none"/>
<path d="M192.5 168.24H642.6 M192.5 171.48H642.6 M192.5 174.73H642.6 M192.5 177.97H642.6 M192.5 181.21H642.6 M192.5 184.45H642.6 M192.5 187.69H642.6 M192.5 190.94H642.6 M192.5 194.18H642.6 M192.5 197.42H642.6 M192.5 200.66H642.6 M192.5 203.9H642.6 M192.5 207.15H642.6 M192.5 210.39H642.6 M192.5 213.63H642.6 M192.5 216.87H642.6 M192.5 220.11H642.6 M192.5 223.35H642.6 M192.5 226.6H642.6 M192.5 229.84H642.6 M192.5 233.08H642.6 M192.5 236.32H642.6 M192.5 239.56H642.6 M192.5 242.81H642.6 M192.5 246.05H642.6 M192.5 249.29H642.6 M192.5 252.53H642.6 M192.5 255.77H642.6 M192.5 259.02H642.6 M192.5 262.26H642.6 M192.5 265.5H642.6 M192.5 268.74H642.6 M192.5 271.98H642.6 M192.5 275.23H642.6 M192.5 278.47H642.6 M192.5 281.71H642.6 M192.5 284.95H642.6 M192.5 288.19H642.6 M192.5 291.44H642.6 M192.5 294.68H642.6 M192.5 297.92H642.6 M192.5 301.16H642.6 M192.5 304.4H642.6 M192.5 307.65H642.6 M192.5 310.89H642.6 M192.5 314.13H642.6 M192.5 317.37H642.6 M192.5 320.61H642.6 M192.5 323.85H642.6 M192.5 327.1H642.6 M192.5 330.34H642.6 M192.5 333.58H642.6 M192.5 336.82H642.6 M192.5 340.06H642.6 M192.5 343.31H642.6 M192.5 346.55H642.6 M192.5 349.79H642.6 M192.5 353.03H642.6 M192.5 356.27H642.6 M192.5 359.52H642.6 M192.5 362.76H642.6" stroke="#fff" stroke-opacity="0.06" stroke-width="0.6" fill="none"/>
<path d="M185.5 169.86L172.8 169.86 M185.5 173.1L172.8 173.1 M172.8 169.86L172.8 173.1 M172.8 171.48L171.2 171.48 M185.5 176.35L171.2 176.35 M171.2 171.48L171.2 176.35 M185.5 166.62L151.3 166.62 M171.2 173.92L151.3 173.92 M151.3 166.62L151.3 173.92 M151.3 170.27L132.6 170.27 M185.5 179.59L132.6 179.59 M132.6 170.27L132.6 179.59 M185.5 182.83L177.6 182.83 M185.5 186.07L177.6 186.07 M177.6 182.83L177.6 186.07 M185.5 189.31L179.3 189.31 M185.5 192.56L179.3 192.56 M179.3 189.31L179.3 192.56 M177.6 184.45L173.3 184.45 M179.3 190.94L173.3 190.94 M173.3 184.45L173.3 190.94 M185.5 199.04L180.2 199.04 M185.5 202.28L180.2 202.28 M180.2 199.04L180.2 202.28 M185.5 195.8L178.3 195.8 M180.2 200.66L178.3 200.66 M178.3 195.8L178.3 200.66 M185.5 205.52L180.2 205.52 M185.5 208.77L180.2 208.77 M180.2 205.52L180.2 208.77 M180.2 207.15L176 207.15 M185.5 212.01L176 212.01 M176 207.15L176 212.01 M178.3 198.23L175 198.23 M176 209.58L175 209.58 M175 198.23L175 209.58 M173.3 187.69L169.3 187.69 M175 203.9L169.3 203.9 M169.3 187.69L169.3 203.9 M185.5 215.25L167.2 215.25 M185.5 218.49L167.2 218.49 M167.2 215.25L167.2 218.49 M169.3 195.8L158 195.8 M167.2 216.87L158 216.87 M158 195.8L158 216.87 M185.5 221.73L177.3 221.73 M185.5 224.98L177.3 224.98 M177.3 221.73L177.3 224.98 M177.3 223.35L170.5 223.35 M185.5 228.22L170.5 228.22 M170.5 223.35L170.5 228.22 M170.5 225.79L163.3 225.79 M185.5 231.46L163.3 231.46 M163.3 225.79L163.3 231.46 M158 206.33L154.2 206.33 M163.3 228.62L154.2 228.62 M154.2 206.33L154.2 228.62 M185.5 237.94L177.7 237.94 M185.5 241.19L177.7 241.19 M177.7 237.94L177.7 241.19 M185.5 244.43L175.1 244.43 M185.5 247.67L175.1 247.67 M175.1 244.43L175.1 247.67 M177.7 239.56L174.3 239.56 M175.1 246.05L174.3 246.05 M174.3 239.56L174.3 246.05 M174.3 242.81L171.5 242.81 M185.5 250.91L171.5 250.91 M171.5 242.81L171.5 250.91 M185.5 234.7L166.2 234.7 M171.5 246.86L166.2 246.86 M166.2 234.7L166.2 246.86 M166.2 240.78L155.2 240.78 M185.5 254.15L155.2 254.15 M155.2 240.78L155.2 254.15 M155.2 247.47L151.4 247.47 M185.5 257.4L151.4 257.4 M151.4 247.47L151.4 257.4 M154.2 217.48L136.6 217.48 M151.4 252.43L136.6 252.43 M136.6 217.48L136.6 252.43 M132.6 174.93L101.6 174.93 M136.6 234.95L101.6 234.95 M101.6 174.93L101.6 234.95 M185.5 260.64L173.5 260.64 M185.5 263.88L173.5 263.88 M173.5 260.64L173.5 263.88 M173.5 262.26L168.7 262.26 M185.5 267.12L168.7 267.12 M168.7 262.26L168.7 267.12 M185.5 270.36L171.4 270.36 M185.5 273.6L171.4 273.6 M171.4 270.36L171.4 273.6 M168.7 264.69L157.6 264.69 M171.4 271.98L157.6 271.98 M157.6 264.69L157.6 271.98 M185.5 276.85L171.4 276.85 M185.5 280.09L171.4 280.09 M171.4 276.85L171.4 280.09 M171.4 278.47L156.6 278.47 M185.5 283.33L156.6 283.33 M156.6 278.47L156.6 283.33 M157.6 268.34L148.5 268.34 M156.6 280.9L148.5 280.9 M148.5 268.34L148.5 280.9 M185.5 286.57L155.5 286.57 M185.5 289.81L155.5 289.81 M155.5 286.57L155.5 289.81 M148.5 274.62L138.1 274.62 M155.5 288.19L138.1 288.19 M138.1 274.62L138.1 288.19 M185.5 293.06L142.7 293.06 M185.5 296.3L142.7 296.3 M142.7 293.06L142.7 296.3 M138.1 281.41L116.4 281.41 M142.7 294.68L116.4 294.68 M116.4 281.41L116.4 294.68 M185.5 299.54L162.4 299.54 M185.5 302.78L162.4 302.78 M162.4 299.54L162.4 302.78 M162.4 301.16L155.5 301.16 M185.5 306.02L155.5 306.02 M155.5 301.16L155.5 306.02 M155.5 303.59L151.3 303.59 M185.5 309.27L151.3 309.27 M151.3 303.59L151.3 309.27 M185.5 312.51L156.2 312.51 M185.5 315.75L156.2 315.75 M156.2 312.51L156.2 315.75 M185.5 318.99L169.3 318.99 M185.5 322.23L169.3 322.23 M169.3 318.99L169.3 322.23 M169.3 320.61L163.8 320.61 M185.5 325.48L163.8 325.48 M163.8 320.61L163.8 325.48 M185.5 328.72L170.7 328.72 M185.5 331.96L170.7 331.96 M170.7 328.72L170.7 331.96 M163.8 323.04L157.6 323.04 M170.7 330.34L157.6 330.34 M157.6 323.04L157.6 330.34 M156.2 314.13L152.4 314.13 M157.6 326.69L152.4 326.69 M152.4 314.13L152.4 326.69 M185.5 341.69L184 341.69 M185.5 344.93L184 344.93 M184 341.69L184 344.93 M185.5 338.44L180.2 338.44 M184 343.31L180.2 343.31 M180.2 338.44L180.2 343.31 M185.5 335.2L176.3 335.2 M180.2 340.88L176.3 340.88 M176.3 335.2L176.3 340.88 M152.4 320.41L142.3 320.41 M176.3 338.04L142.3 338.04 M142.3 320.41L142.3 338.04 M151.3 306.43L125.4 306.43 M142.3 329.22L125.4 329.22 M125.4 306.43L125.4 329.22 M185.5 348.17L159.9 348.17 M185.5 351.41L159.9 351.41 M159.9 348.17L159.9 351.41 M159.9 349.79L149 349.79 M185.5 354.65L149 354.65 M149 349.79L149 354.65 M185.5 357.9L157.5 357.9 M185.5 361.14L157.5 361.14 M157.5 357.9L157.5 361.14 M149 352.22L141.8 352.22 M157.5 359.52L141.8 359.52 M141.8 352.22L141.8 359.52 M141.8 355.87L133.3 355.87 M185.5 364.38L133.3 364.38 M133.3 355.87L133.3 364.38 M125.4 317.83L119.4 317.83 M133.3 360.12L119.4 360.12 M119.4 317.83L119.4 360.12 M116.4 288.04L80.3 288.04 M119.4 338.98L80.3 338.98 M80.3 288.04L80.3 338.98 M101.6 204.94L5.8 204.94 M80.3 313.51L5.8 313.51 M5.8 204.94L5.8 313.51" fill="none" stroke="#333" stroke-width="1"/>
<text x="103.3" y="168.7" font-size="4.8" fill="#3a3a3a" textLength="16.2" lengthAdjust="spacingAndGlyphs">Cluster 1</text>
<text x="106.0" y="230.4" font-size="4.8" fill="#3a3a3a" textLength="16.2" lengthAdjust="spacingAndGlyphs">Cluster 2</text>
<text x="91.7" y="278.1" font-size="4.8" fill="#3a3a3a" textLength="16.2" lengthAdjust="spacingAndGlyphs">Cluster 3</text>
<text x="113.2" y="304.9" font-size="4.8" fill="#3a3a3a" textLength="16.2" lengthAdjust="spacingAndGlyphs">Cluster 4</text>
<text x="124.3" y="352.3" font-size="4.8" fill="#3a3a3a" textLength="16.2" lengthAdjust="spacingAndGlyphs">Cluster 5</text>
<path d="M647.5 166.62H669 M647.5 169.86H669 M647.5 173.1H669 M647.5 176.35H669 M647.5 179.59H669 M647.5 182.83H669 M647.5 186.07H669 M647.5 189.31H669 M647.5 192.56H669 M647.5 195.8H669 M647.5 199.04H669 M647.5 202.28H669 M647.5 205.52H669 M647.5 208.77H669 M647.5 212.01H669 M647.5 215.25H669 M647.5 218.49H669 M647.5 221.73H669 M647.5 224.98H669 M647.5 228.22H669 M647.5 231.46H669 M647.5 234.7H669 M647.5 237.94H669 M647.5 241.19H669 M647.5 244.43H669 M647.5 247.67H669 M647.5 250.91H669 M647.5 254.15H669 M647.5 257.4H669 M647.5 260.64H669 M647.5 263.88H669 M647.5 267.12H669 M647.5 270.36H669 M647.5 273.6H669 M647.5 276.85H669 M647.5 280.09H669 M647.5 283.33H669 M647.5 286.57H669 M647.5 289.81H669 M647.5 293.06H669 M647.5 296.3H669 M647.5 299.54H669 M647.5 302.78H669 M647.5 306.02H669 M647.5 309.27H669 M647.5 312.51H669 M647.5 315.75H669 M647.5 318.99H669 M647.5 322.23H669 M647.5 325.48H669 M647.5 328.72H669 M647.5 331.96H669 M647.5 335.2H669 M647.5 338.44H669 M647.5 341.69H669 M647.5 344.93H669 M647.5 348.17H669 M647.5 351.41H669 M647.5 354.65H669 M647.5 357.9H669 M647.5 361.14H669 M647.5 364.38H669" stroke="#8e8e8e" stroke-width="2.3" stroke-dasharray="1.1 0.25 0.8 0.3 1.4 0.2 0.9 0.35" fill="none"/>
<path d="M673.2 166.62H677.2M677.9 166.62H685 M673.2 169.86H677.2M677.9 169.86H685 M673.2 173.1H677.2M677.9 173.1H685 M673.2 176.35H677.2M677.9 176.35H685 M673.2 179.59H677.2M677.9 179.59H685 M673.2 182.83H677.2M677.9 182.83H685 M673.2 186.07H677.2M677.9 186.07H685 M673.2 189.31H677.2M677.9 189.31H685 M673.2 192.56H677.2M677.9 192.56H685 M673.2 195.8H677.2M677.9 195.8H685 M673.2 199.04H677.2M677.9 199.04H685 M673.2 202.28H677.2M677.9 202.28H685 M673.2 205.52H677.2M677.9 205.52H685 M673.2 208.77H677.2M677.9 208.77H685 M673.2 212.01H677.2M677.9 212.01H685 M673.2 215.25H677.2M677.9 215.25H685 M673.2 218.49H677.2M677.9 218.49H685 M673.2 221.73H677.2M677.9 221.73H685 M673.2 224.98H677.2M677.9 224.98H685 M673.2 228.22H677.2M677.9 228.22H685 M673.2 231.46H677.2M677.9 231.46H685 M673.2 234.7H677.2M677.9 234.7H685 M673.2 237.94H677.2M677.9 237.94H685 M673.2 241.19H677.2M677.9 241.19H685 M673.2 244.43H677.2M677.9 244.43H685 M673.2 247.67H677.2M677.9 247.67H685 M673.2 250.91H677.2M677.9 250.91H685 M673.2 254.15H677.2M677.9 254.15H685 M673.2 257.4H677.2M677.9 257.4H685 M673.2 260.64H677.2M677.9 260.64H685 M673.2 263.88H677.2M677.9 263.88H685 M673.2 267.12H677.2M677.9 267.12H685 M673.2 270.36H677.2M677.9 270.36H685 M673.2 273.6H677.2M677.9 273.6H685 M673.2 276.85H677.2M677.9 276.85H685 M673.2 280.09H677.2M677.9 280.09H685 M673.2 283.33H677.2M677.9 283.33H685 M673.2 286.57H677.2M677.9 286.57H685 M673.2 289.81H677.2M677.9 289.81H685 M673.2 293.06H677.2M677.9 293.06H685 M673.2 296.3H677.2M677.9 296.3H685 M673.2 299.54H677.2M677.9 299.54H685 M673.2 302.78H677.2M677.9 302.78H685 M673.2 306.02H677.2M677.9 306.02H685 M673.2 309.27H677.2M677.9 309.27H685 M673.2 312.51H677.2M677.9 312.51H685 M673.2 315.75H677.2M677.9 315.75H685 M673.2 318.99H677.2M677.9 318.99H685 M673.2 322.23H677.2M677.9 322.23H685 M673.2 325.48H677.2M677.9 325.48H685 M673.2 328.72H677.2M677.9 328.72H685 M673.2 331.96H677.2M677.9 331.96H685 M673.2 335.2H677.2M677.9 335.2H685 M673.2 338.44H677.2M677.9 338.44H685 M673.2 341.69H677.2M677.9 341.69H685 M673.2 344.93H677.2M677.9 344.93H685 M673.2 348.17H677.2M677.9 348.17H685 M673.2 351.41H677.2M677.9 351.41H685 M673.2 354.65H677.2M677.9 354.65H685 M673.2 357.9H677.2M677.9 357.9H685 M673.2 361.14H677.2M677.9 361.14H685 M673.2 364.38H677.2M677.9 364.38H685" stroke="#b4b6bc" stroke-width="2.1" stroke-dasharray="1.1 0.3 0.8 0.4" fill="none"/>
<text transform="translate(202.83,372) rotate(-90) scale(0.965,1)" font-size="6.6" text-anchor="end" fill="#1a1a1a" stroke="#1a1a1a" stroke-width="0.08">CG130_Sl.M82.Wild.Type.Meristem.Whole.17....</text>
<text transform="translate(223.29,372) rotate(-90) scale(0.965,1)" font-size="6.6" text-anchor="end" fill="#1a1a1a" stroke="#1a1a1a" stroke-width="0.08">CG127_Sl.M82.Wild.Type.Meristem.Whole.15....</text>
<text transform="translate(243.75,372) rotate(-90) scale(0.965,1)" font-size="6.6" text-anchor="end" fill="#1a1a1a" stroke="#1a1a1a" stroke-width="0.08">CG129_Sl.M82.Wild.Type.Meristem.Whole.16....</text>
<text transform="translate(264.21,372) rotate(-90) scale(0.965,1)" font-size="6.6" text-anchor="end" fill="#1a1a1a" stroke="#1a1a1a" stroke-width="0.08">CG126_Sl.M82.Wild.Type.Meristem.Whole.10....</text>
<text transform="translate(284.67,372) rotate(-90) scale(0.965,1)" font-size="6.6" text-anchor="end" fill="#1a1a1a" stroke="#1a1a1a" stroke-width="0.08">CG131_Sl.M82.Wild.Type.Meristem.Whole.18....</text>
<text transform="translate(305.12,372) rotate(-90) scale(0.965,1)" font-size="6.6" text-anchor="end" fill="#1a1a1a" stroke="#1a1a1a" stroke-width="0.08">CG128_Sl.M82.Wild.Type.Meristem.Whole.13....</text>
<text transform="translate(325.58,372) rotate(-90) scale(0.965,1)" font-size="6.6" text-anchor="end" fill="#1a1a1a" stroke="#1a1a1a" stroke-width="0.08">CG125_Sl.M82.Wild.Type.Meristem.Whole.7D....</text>
<text transform="translate(346.04,372) rotate(-90) scale(0.965,1)" font-size="6.6" text-anchor="end" fill="#1a1a1a" stroke="#1a1a1a" stroke-width="0.08">CG195_Sl.M82.Wild.Type.Leaf.Leaf.primordium.4D....</text>
<text transform="translate(366.5,372) rotate(-90) scale(0.965,1)" font-size="6.6" text-anchor="end" fill="#1a1a1a" stroke="#1a1a1a" stroke-width="0.08">CG199_Sl.M82.Wild.Type.Leaf.Leaf.primordium.17....</text>
<text transform="translate(386.96,372) rotate(-90) scale(0.965,1)" font-size="6.6" text-anchor="end" fill="#1a1a1a" stroke="#1a1a1a" stroke-width="0.08">CG196_Sl.M82.Wild.Type.Leaf.Leaf.primordium.5....</text>
<text transform="translate(407.42,372) rotate(-90) scale(0.965,1)" font-size="6.6" text-anchor="end" fill="#1a1a1a" stroke="#1a1a1a" stroke-width="0.08">CG187_Sl.M82.Wild.Type.Meristem.Shoot.Apical.Meristem.5....</text>
<text transform="translate(427.88,372) rotate(-90) scale(0.965,1)" font-size="6.6" text-anchor="end" fill="#1a1a1a" stroke="#1a1a1a" stroke-width="0.08">CG186_Sl.M82.Wild.Type.Meristem.Shoot.Apical.Meristem.4....</text>
<text transform="translate(448.34,372) rotate(-90) scale(0.965,1)" font-size="6.6" text-anchor="end" fill="#1a1a1a" stroke="#1a1a1a" stroke-width="0.08">CG190_Sl.M82.Wild.Type.Meristem.Shoot.Apical.Meristem.17....</text>
<text transform="translate(468.8,372) rotate(-90) scale(0.965,1)" font-size="6.6" text-anchor="end" fill="#1a1a1a" stroke="#1a1a1a" stroke-width="0.08">CG197_Sl.M82.Wild.Type.Leaf.Leaf.primordium.11....</text>
<text transform="translate(489.26,372) rotate(-90) scale(0.965,1)" font-size="6.6" text-anchor="end" fill="#1a1a1a" stroke="#1a1a1a" stroke-width="0.08">CG188_Sl.M82.Wild.Type.Meristem.Shoot.Apical.Meristem.11....</text>
<text transform="translate(509.72,372) rotate(-90) scale(0.965,1)" font-size="6.6" text-anchor="end" fill="#1a1a1a" stroke="#1a1a1a" stroke-width="0.08">CG198_Sl.M82.Wild.Type.Leaf.Leaf.primordium.14....</text>
<text transform="translate(530.18,372) rotate(-90) scale(0.965,1)" font-size="6.6" text-anchor="end" fill="#1a1a1a" stroke="#1a1a1a" stroke-width="0.08">CG189_Sl.M82.Wild.Type.Meristem.Shoot.Apical.Meristem.14....</text>
<text transform="translate(550.63,372) rotate(-90) scale(0.965,1)" font-size="6.6" text-anchor="end" fill="#1a1a1a" stroke="#1a1a1a" stroke-width="0.08">CG149_Sl.Rutgers.Wild.Type.Meristem.Apical.Meristem.4w....</text>
<text transform="translate(571.09,372) rotate(-90) scale(0.965,1)" font-size="6.6" text-anchor="end" fill="#1a1a1a" stroke="#1a1a1a" stroke-width="0.08">CG99_Sl.Heinz.1706.Wild.Type.Leaf.Whole.NC....</text>
<text transform="translate(591.55,372) rotate(-90) scale(0.965,1)" font-size="6.6" text-anchor="end" fill="#1a1a1a" stroke="#1a1a1a" stroke-width="0.08">CG174_Sl.Micro.Tom.Wild.Type.Leaf.Whole.nc....</text>
<text transform="translate(612.01,372) rotate(-90) scale(0.965,1)" font-size="6.6" text-anchor="end" fill="#1a1a1a" stroke="#1a1a1a" stroke-width="0.08">CG100_Sl.Heinz.1706.Wild.Type.Root.Whole.NC....</text>
<text transform="translate(632.47,372) rotate(-90) scale(0.965,1)" font-size="6.6" text-anchor="end" fill="#1a1a1a" stroke="#1a1a1a" stroke-width="0.08">CG177_Sl.Micro.Tom.Wild.Type.Root.Whole.nc....</text>
<rect x="19.6" y="384.5" width="23.3" height="14.4" fill="#00ff00"/>
<rect x="18.9" y="402.4" width="23.5" height="14.6" fill="#007f00"/>
<rect x="18.9" y="420.3" width="23.5" height="14.2" fill="#c0c0c0"/>
<text x="61.3" y="394" font-size="7.9" fill="#222" stroke="#222" stroke-width="0.15">Meristem</text>
<text x="61.8" y="411.8" font-size="7.6" fill="#222" stroke="#222" stroke-width="0.15">Leaf</text>
<text x="60.9" y="431.4" font-size="7.6" fill="#222" stroke="#222" stroke-width="0.15">Root</text>
</svg>
</body></html>
